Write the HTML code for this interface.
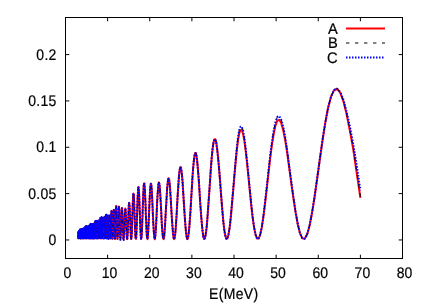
<!DOCTYPE html>
<html><head><meta charset="utf-8"><title>plot</title>
<style>html,body{margin:0;padding:0;background:#fff}svg{display:block}text{font-family:"Liberation Sans",sans-serif;font-size:14px;text-rendering:geometricPrecision;fill:#000}</style></head>
<body>
<svg width="436" height="305" viewBox="0 0 436 305">
<rect width="436" height="305" fill="#fff"/>
<g opacity="0.999">
<text transform="translate(67.50,278.00) scale(1,1.1)" text-anchor="middle"  stroke="#000" stroke-width="0.2" >0</text>
<path d="M107.62 258.5 v-3.8 M107.62 17.5 v3.8" stroke="#000" stroke-width="1" fill="none"/>
<text transform="translate(109.62,278.00) scale(1,1.1)" text-anchor="middle"  stroke="#000" stroke-width="0.2" >10</text>
<path d="M149.75 258.5 v-3.8 M149.75 17.5 v3.8" stroke="#000" stroke-width="1" fill="none"/>
<text transform="translate(151.75,278.00) scale(1,1.1)" text-anchor="middle"  stroke="#000" stroke-width="0.2" >20</text>
<path d="M191.88 258.5 v-3.8 M191.88 17.5 v3.8" stroke="#000" stroke-width="1" fill="none"/>
<text transform="translate(193.88,278.00) scale(1,1.1)" text-anchor="middle"  stroke="#000" stroke-width="0.2" >30</text>
<path d="M234.00 258.5 v-3.8 M234.00 17.5 v3.8" stroke="#000" stroke-width="1" fill="none"/>
<text transform="translate(236.00,278.00) scale(1,1.1)" text-anchor="middle"  stroke="#000" stroke-width="0.2" >40</text>
<path d="M276.12 258.5 v-3.8 M276.12 17.5 v3.8" stroke="#000" stroke-width="1" fill="none"/>
<text transform="translate(278.12,278.00) scale(1,1.1)" text-anchor="middle"  stroke="#000" stroke-width="0.2" >50</text>
<path d="M318.25 258.5 v-3.8 M318.25 17.5 v3.8" stroke="#000" stroke-width="1" fill="none"/>
<text transform="translate(320.25,278.00) scale(1,1.1)" text-anchor="middle"  stroke="#000" stroke-width="0.2" >60</text>
<path d="M360.38 258.5 v-3.8 M360.38 17.5 v3.8" stroke="#000" stroke-width="1" fill="none"/>
<text transform="translate(362.38,278.00) scale(1,1.1)" text-anchor="middle"  stroke="#000" stroke-width="0.2" >70</text>
<text transform="translate(404.50,278.00) scale(1,1.1)" text-anchor="middle"  stroke="#000" stroke-width="0.2" >80</text>
<path d="M65.5 239.96 h3.8 M402.5 239.96 h-3.8" stroke="#000" stroke-width="1" fill="none"/>
<text transform="translate(56.70,245.06) scale(1,1.1)" text-anchor="end"  stroke="#000" stroke-width="0.2" letter-spacing="0.3">0</text>
<path d="M65.5 193.62 h3.8 M402.5 193.62 h-3.8" stroke="#000" stroke-width="1" fill="none"/>
<text transform="translate(56.70,198.72) scale(1,1.1)" text-anchor="end"  stroke="#000" stroke-width="0.2" letter-spacing="0.3">0.05</text>
<path d="M65.5 147.27 h3.8 M402.5 147.27 h-3.8" stroke="#000" stroke-width="1" fill="none"/>
<text transform="translate(56.70,152.37) scale(1,1.1)" text-anchor="end"  stroke="#000" stroke-width="0.2" letter-spacing="0.3">0.1</text>
<path d="M65.5 100.92 h3.8 M402.5 100.92 h-3.8" stroke="#000" stroke-width="1" fill="none"/>
<text transform="translate(56.70,106.02) scale(1,1.1)" text-anchor="end"  stroke="#000" stroke-width="0.2" letter-spacing="0.3">0.15</text>
<path d="M65.5 54.58 h3.8 M402.5 54.58 h-3.8" stroke="#000" stroke-width="1" fill="none"/>
<text transform="translate(56.70,59.68) scale(1,1.1)" text-anchor="end"  stroke="#000" stroke-width="0.2" letter-spacing="0.3">0.2</text>
<polyline points="78.1,236.5 78.1,235.8 78.2,235.1 78.2,234.4 78.2,233.8 78.2,233.3 78.2,233.0 78.2,232.8 78.2,232.8 78.2,232.9 78.2,233.3 78.2,233.8 78.2,234.4 78.2,235.1 78.2,235.8 78.2,236.5 78.2,237.1 78.3,237.6 78.3,238.0 78.3,238.2 78.3,238.2 78.3,238.0 78.3,237.6 78.3,237.1 78.3,236.5 78.3,235.8 78.3,235.1 78.3,234.3 78.3,233.7 78.3,233.2 78.3,232.8 78.3,232.6 78.4,232.5 78.4,232.7 78.4,233.0 78.4,233.6 78.4,234.2 78.4,234.9 78.4,235.6 78.4,236.3 78.4,237.0 78.4,237.5 78.4,237.9 78.4,238.2 78.4,238.2 78.4,238.0 78.5,237.7 78.5,237.2 78.5,236.5 78.5,235.8 78.5,235.0 78.5,234.3 78.5,233.6 78.5,233.0 78.5,232.6 78.5,232.3 78.5,232.3 78.5,232.5 78.5,232.8 78.5,233.3 78.5,233.9 78.6,234.7 78.6,235.4 78.6,236.2 78.6,236.9 78.6,237.5 78.6,237.9 78.6,238.1 78.6,238.2 78.6,238.0 78.6,237.7 78.6,237.2 78.6,236.5 78.6,235.8 78.6,235.0 78.7,234.2 78.7,233.5 78.7,232.9 78.7,232.4 78.7,232.1 78.7,232.1 78.7,232.2 78.7,232.5 78.7,233.0 78.7,233.7 78.7,234.4 78.7,235.2 78.7,236.0 78.7,236.8 78.8,237.4 78.8,237.8 78.8,238.1 78.8,238.2 78.8,238.1 78.8,237.7 78.8,237.2 78.8,236.5 78.8,235.8 78.8,234.9 78.8,234.1 78.8,233.3 78.8,232.7 78.9,232.2 78.9,231.9 78.9,231.8 78.9,231.9 78.9,232.2 78.9,232.7 78.9,233.4 78.9,234.2 78.9,235.0 78.9,235.8 78.9,236.6 78.9,237.3 78.9,237.8 78.9,238.1 79.0,238.2 79.0,238.1 79.0,237.7 79.0,237.2 79.0,236.5 79.0,235.7 79.0,234.9 79.0,234.0 79.0,233.2 79.0,232.5 79.0,232.0 79.0,231.7 79.0,231.5 79.1,231.6 79.1,231.9 79.1,232.5 79.1,233.1 79.1,233.9 79.1,234.8 79.1,235.7 79.1,236.5 79.1,237.2 79.1,237.7 79.1,238.1 79.1,238.2 79.1,238.1 79.2,237.8 79.2,237.3 79.2,236.6 79.2,235.7 79.2,234.9 79.2,234.0 79.2,233.1 79.2,232.4 79.2,231.8 79.2,231.4 79.2,231.3 79.2,231.3 79.2,231.6 79.3,232.2 79.3,232.8 79.3,233.7 79.3,234.6 79.3,235.5 79.3,236.3 79.3,237.1 79.3,237.6 79.3,238.0 79.3,238.2 79.3,238.1 79.3,237.8 79.4,237.3 79.4,236.6 79.4,235.7 79.4,234.8 79.4,233.9 79.4,233.0 79.4,232.2 79.4,231.6 79.4,231.2 79.4,231.0 79.4,231.1 79.4,231.3 79.4,231.9 79.5,232.6 79.5,233.4 79.5,234.3 79.5,235.3 79.5,236.1 79.5,236.9 79.5,237.6 79.5,238.0 79.5,238.2 79.5,238.1 79.5,237.8 79.5,237.3 79.6,236.6 79.6,235.8 79.6,234.8 79.6,233.8 79.6,232.9 79.6,232.1 79.6,231.4 79.6,231.0 79.6,230.8 79.6,230.8 79.6,231.1 79.6,231.6 79.7,232.3 79.7,233.1 79.7,234.1 79.7,235.0 79.7,236.0 79.7,236.8 79.7,237.5 79.7,238.0 79.7,238.2 79.7,238.2 79.7,237.9 79.7,237.4 79.8,236.6 79.8,235.8 79.8,234.8 79.8,233.8 79.8,232.9 79.8,232.0 79.8,231.3 79.8,230.8 79.8,230.5 79.8,230.5 79.8,230.8 79.8,231.3 79.9,232.0 79.9,232.9 79.9,233.8 79.9,234.8 79.9,235.8 79.9,236.7 79.9,237.4 79.9,237.9 79.9,238.2 79.9,238.2 79.9,237.9 80.0,237.4 80.0,236.7 80.0,235.8 80.0,234.8 80.0,233.8 80.0,232.8 80.0,231.9 80.0,231.2 80.0,230.6 80.0,230.3 80.0,230.3 80.0,230.6 80.1,231.0 80.1,231.7 80.1,232.6 80.1,233.6 80.1,234.6 80.1,235.6 80.1,236.6 80.1,237.3 80.1,237.8 80.1,238.1 80.1,238.2 80.2,237.9 80.2,237.5 80.2,236.7 80.2,235.9 80.2,234.9 80.2,233.8 80.2,232.8 80.2,231.8 80.2,231.1 80.2,230.5 80.2,230.2 80.3,230.1 80.3,230.3 80.3,230.8 80.3,231.5 80.3,232.4 80.3,233.4 80.3,234.4 80.3,235.5 80.3,236.4 80.3,237.2 80.3,237.8 80.4,238.1 80.4,238.2 80.4,238.0 80.4,237.5 80.4,236.8 80.4,235.9 80.4,234.9 80.4,233.8 80.4,232.8 80.4,231.8 80.4,231.0 80.5,230.4 80.5,230.0 80.5,229.9 80.5,230.1 80.5,230.6 80.5,231.3 80.5,232.2 80.5,233.2 80.5,234.2 80.5,235.3 80.5,236.3 80.6,237.1 80.6,237.7 80.6,238.1 80.6,238.2 80.6,238.0 80.6,237.6 80.6,236.9 80.6,236.0 80.6,235.0 80.6,233.9 80.7,232.8 80.7,231.8 80.7,230.9 80.7,230.3 80.7,229.9 80.7,229.8 80.7,230.0 80.7,230.4 80.7,231.1 80.7,232.0 80.7,233.0 80.8,234.1 80.8,235.1 80.8,236.2 80.8,237.0 80.8,237.7 80.8,238.1 80.8,238.2 80.8,238.0 80.8,237.6 80.8,236.9 80.9,236.0 80.9,235.0 80.9,233.9 80.9,232.8 80.9,231.8 80.9,230.9 80.9,230.3 80.9,229.8 80.9,229.7 80.9,229.8 81.0,230.2 81.0,230.9 81.0,231.8 81.0,232.8 81.0,233.9 81.0,235.0 81.0,236.0 81.0,236.9 81.0,237.6 81.0,238.0 81.1,238.2 81.1,238.1 81.1,237.7 81.1,237.0 81.1,236.1 81.1,235.1 81.1,234.0 81.1,232.9 81.1,231.9 81.1,231.0 81.2,230.3 81.2,229.8 81.2,229.6 81.2,229.7 81.2,230.1 81.2,230.8 81.2,231.6 81.2,232.7 81.2,233.8 81.2,234.9 81.3,235.9 81.3,236.8 81.3,237.5 81.3,238.0 81.3,238.2 81.3,238.1 81.3,237.7 81.3,237.1 81.3,236.2 81.3,235.2 81.4,234.1 81.4,233.0 81.4,231.9 81.4,231.0 81.4,230.3 81.4,229.8 81.4,229.6 81.4,229.7 81.4,230.0 81.5,230.7 81.5,231.5 81.5,232.5 81.5,233.6 81.5,234.7 81.5,235.8 81.5,236.7 81.5,237.5 81.5,238.0 81.6,238.2 81.6,238.1 81.6,237.8 81.6,237.2 81.6,236.3 81.6,235.3 81.6,234.2 81.6,233.1 81.6,232.1 81.6,231.1 81.7,230.4 81.7,229.9 81.7,229.6 81.7,229.7 81.7,230.0 81.7,230.6 81.7,231.4 81.7,232.4 81.7,233.5 81.8,234.6 81.8,235.7 81.8,236.6 81.8,237.4 81.8,237.9 81.8,238.2 81.8,238.1 81.8,237.8 81.8,237.2 81.9,236.4 81.9,235.5 81.9,234.4 81.9,233.3 81.9,232.2 81.9,231.2 81.9,230.5 81.9,229.9 81.9,229.6 82.0,229.7 82.0,230.0 82.0,230.5 82.0,231.3 82.0,232.3 82.0,233.4 82.0,234.5 82.0,235.6 82.0,236.5 82.1,237.3 82.1,237.9 82.1,238.2 82.1,238.2 82.1,237.9 82.1,237.3 82.1,236.5 82.1,235.6 82.2,234.5 82.2,233.4 82.2,232.3 82.2,231.3 82.2,230.6 82.2,230.0 82.2,229.7 82.2,229.7 82.2,229.9 82.3,230.5 82.3,231.3 82.3,232.2 82.3,233.3 82.3,234.4 82.3,235.5 82.3,236.4 82.3,237.3 82.3,237.8 82.4,238.1 82.4,238.2 82.4,237.9 82.4,237.4 82.4,236.6 82.4,235.7 82.4,234.6 82.4,233.5 82.5,232.4 82.5,231.4 82.5,230.6 82.5,230.0 82.5,229.7 82.5,229.7 82.5,229.9 82.5,230.4 82.6,231.2 82.6,232.1 82.6,233.2 82.6,234.3 82.6,235.4 82.6,236.3 82.6,237.2 82.6,237.8 82.6,238.1 82.7,238.2 82.7,238.0 82.7,237.5 82.7,236.7 82.7,235.8 82.7,234.7 82.7,233.6 82.7,232.5 82.8,231.5 82.8,230.7 82.8,230.1 82.8,229.7 82.8,229.6 82.8,229.8 82.8,230.3 82.8,231.0 82.9,232.0 82.9,233.0 82.9,234.1 82.9,235.2 82.9,236.2 82.9,237.1 82.9,237.7 82.9,238.1 83.0,238.2 83.0,238.0 83.0,237.5 83.0,236.8 83.0,235.9 83.0,234.8 83.0,233.7 83.0,232.6 83.1,231.5 83.1,230.7 83.1,230.0 83.1,229.6 83.1,229.5 83.1,229.7 83.1,230.1 83.2,230.8 83.2,231.7 83.2,232.8 83.2,233.9 83.2,235.1 83.2,236.1 83.2,237.0 83.2,237.7 83.3,238.1 83.3,238.2 83.3,238.0 83.3,237.6 83.3,236.9 83.3,235.9 83.3,234.9 83.3,233.7 83.4,232.6 83.4,231.5 83.4,230.6 83.4,229.9 83.4,229.4 83.4,229.3 83.4,229.4 83.5,229.9 83.5,230.6 83.5,231.5 83.5,232.5 83.5,233.7 83.5,234.8 83.5,235.9 83.5,236.9 83.6,237.6 83.6,238.0 83.6,238.2 83.6,238.1 83.6,237.6 83.6,236.9 83.6,236.0 83.7,234.9 83.7,233.7 83.7,232.5 83.7,231.4 83.7,230.4 83.7,229.7 83.7,229.2 83.8,229.0 83.8,229.1 83.8,229.5 83.8,230.2 83.8,231.1 83.8,232.2 83.8,233.4 83.9,234.6 83.9,235.7 83.9,236.7 83.9,237.5 83.9,238.0 83.9,238.2 83.9,238.1 83.9,237.7 84.0,237.0 84.0,236.0 84.0,234.9 84.0,233.7 84.0,232.4 84.0,231.3 84.0,230.2 84.1,229.4 84.1,228.9 84.1,228.6 84.1,228.7 84.1,229.1 84.1,229.8 84.1,230.7 84.2,231.8 84.2,233.1 84.2,234.3 84.2,235.5 84.2,236.5 84.2,237.4 84.3,237.9 84.3,238.2 84.3,238.1 84.3,237.7 84.3,237.0 84.3,236.0 84.3,234.9 84.4,233.6 84.4,232.3 84.4,231.1 84.4,230.0 84.4,229.1 84.4,228.5 84.4,228.2 84.5,228.2 84.5,228.6 84.5,229.3 84.5,230.2 84.5,231.4 84.5,232.7 84.5,234.0 84.6,235.2 84.6,236.4 84.6,237.3 84.6,237.9 84.6,238.2 84.6,238.1 84.7,237.7 84.7,237.0 84.7,236.0 84.7,234.9 84.7,233.5 84.7,232.2 84.7,230.9 84.8,229.7 84.8,228.7 84.8,228.1 84.8,227.7 84.8,227.7 84.8,228.1 84.9,228.8 84.9,229.8 84.9,230.9 84.9,232.3 84.9,233.6 84.9,235.0 84.9,236.2 85.0,237.1 85.0,237.8 85.0,238.2 85.0,238.2 85.0,237.8 85.0,237.1 85.1,236.1 85.1,234.9 85.1,233.5 85.1,232.1 85.1,230.7 85.1,229.5 85.2,228.4 85.2,227.7 85.2,227.3 85.2,227.3 85.2,227.6 85.2,228.3 85.3,229.3 85.3,230.5 85.3,231.9 85.3,233.3 85.3,234.7 85.3,236.0 85.3,237.0 85.4,237.7 85.4,238.1 85.4,238.2 85.4,237.8 85.4,237.1 85.4,236.1 85.5,234.9 85.5,233.5 85.5,232.0 85.5,230.6 85.5,229.3 85.5,228.2 85.6,227.4 85.6,227.0 85.6,226.9 85.6,227.3 85.6,227.9 85.6,228.9 85.7,230.2 85.7,231.6 85.7,233.0 85.7,234.5 85.7,235.8 85.8,236.9 85.8,237.7 85.8,238.1 85.8,238.2 85.8,237.9 85.8,237.2 85.9,236.2 85.9,235.0 85.9,233.6 85.9,232.1 85.9,230.6 85.9,229.3 86.0,228.2 86.0,227.3 86.0,226.8 86.0,226.7 86.0,227.0 86.0,227.7 86.1,228.7 86.1,229.9 86.1,231.3 86.1,232.8 86.1,234.3 86.1,235.6 86.2,236.7 86.2,237.6 86.2,238.1 86.2,238.2 86.2,237.9 86.3,237.3 86.3,236.3 86.3,235.1 86.3,233.7 86.3,232.2 86.3,230.7 86.4,229.4 86.4,228.2 86.4,227.4 86.4,226.8 86.4,226.7 86.5,227.0 86.5,227.6 86.5,228.5 86.5,229.7 86.5,231.1 86.5,232.6 86.6,234.1 86.6,235.5 86.6,236.6 86.6,237.5 86.6,238.0 86.7,238.2 86.7,238.0 86.7,237.4 86.7,236.4 86.7,235.3 86.8,233.9 86.8,232.4 86.8,230.9 86.8,229.6 86.8,228.4 86.8,227.5 86.9,227.0 86.9,226.8 86.9,227.0 86.9,227.6 86.9,228.5 87.0,229.7 87.0,231.1 87.0,232.5 87.0,234.0 87.0,235.4 87.1,236.5 87.1,237.4 87.1,238.0 87.1,238.2 87.1,238.0 87.2,237.5 87.2,236.6 87.2,235.4 87.2,234.1 87.2,232.6 87.3,231.2 87.3,229.8 87.3,228.7 87.3,227.8 87.3,227.2 87.3,227.0 87.4,227.1 87.4,227.7 87.4,228.5 87.4,229.7 87.4,231.0 87.5,232.4 87.5,233.9 87.5,235.3 87.5,236.4 87.5,237.4 87.6,238.0 87.6,238.2 87.6,238.1 87.6,237.6 87.7,236.7 87.7,235.6 87.7,234.3 87.7,232.8 87.7,231.4 87.8,230.0 87.8,228.8 87.8,227.9 87.8,227.3 87.8,227.0 87.9,227.2 87.9,227.6 87.9,228.5 87.9,229.6 87.9,230.9 88.0,232.3 88.0,233.7 88.0,235.1 88.0,236.3 88.0,237.3 88.1,237.9 88.1,238.2 88.1,238.1 88.1,237.6 88.2,236.8 88.2,235.7 88.2,234.4 88.2,233.0 88.2,231.5 88.3,230.1 88.3,228.9 88.3,227.9 88.3,227.2 88.3,226.9 88.4,227.0 88.4,227.4 88.4,228.2 88.4,229.3 88.5,230.6 88.5,232.0 88.5,233.5 88.5,234.9 88.5,236.2 88.6,237.2 88.6,237.8 88.6,238.2 88.6,238.1 88.7,237.7 88.7,236.9 88.7,235.8 88.7,234.4 88.7,233.0 88.8,231.4 88.8,230.0 88.8,228.7 88.8,227.6 88.9,226.9 88.9,226.5 88.9,226.5 88.9,226.9 88.9,227.7 89.0,228.8 89.0,230.1 89.0,231.6 89.0,233.1 89.1,234.6 89.1,235.9 89.1,237.0 89.1,237.8 89.2,238.2 89.2,238.1 89.2,237.7 89.2,236.9 89.2,235.8 89.3,234.4 89.3,232.8 89.3,231.2 89.3,229.7 89.4,228.3 89.4,227.1 89.4,226.3 89.4,225.8 89.5,225.8 89.5,226.2 89.5,226.9 89.5,228.0 89.6,229.4 89.6,231.0 89.6,232.6 89.6,234.2 89.7,235.6 89.7,236.8 89.7,237.7 89.7,238.1 89.7,238.2 89.8,237.8 89.8,236.9 89.8,235.8 89.8,234.3 89.9,232.7 89.9,231.0 89.9,229.3 89.9,227.8 90.0,226.5 90.0,225.6 90.0,225.1 90.0,225.0 90.1,225.3 90.1,226.1 90.1,227.3 90.1,228.7 90.2,230.4 90.2,232.1 90.2,233.8 90.2,235.3 90.3,236.6 90.3,237.6 90.3,238.1 90.3,238.2 90.4,237.8 90.4,237.0 90.4,235.8 90.5,234.3 90.5,232.6 90.5,230.8 90.5,229.0 90.6,227.4 90.6,226.1 90.6,225.1 90.6,224.5 90.7,224.3 90.7,224.7 90.7,225.5 90.7,226.6 90.8,228.1 90.8,229.8 90.8,231.7 90.8,233.4 90.9,235.1 90.9,236.4 90.9,237.5 91.0,238.1 91.0,238.2 91.0,237.9 91.0,237.1 91.1,235.9 91.1,234.4 91.1,232.6 91.1,230.8 91.2,229.0 91.2,227.4 91.2,226.0 91.3,224.9 91.3,224.3 91.3,224.1 91.3,224.4 91.4,225.2 91.4,226.4 91.4,227.9 91.4,229.6 91.5,231.4 91.5,233.2 91.5,234.9 91.6,236.3 91.6,237.4 91.6,238.0 91.6,238.2 91.7,237.9 91.7,237.2 91.7,236.0 91.8,234.6 91.8,232.9 91.8,231.1 91.8,229.3 91.9,227.6 91.9,226.2 91.9,225.1 92.0,224.5 92.0,224.3 92.0,224.5 92.0,225.2 92.1,226.4 92.1,227.8 92.1,229.5 92.2,231.3 92.2,233.1 92.2,234.8 92.3,236.2 92.3,237.3 92.3,238.0 92.3,238.2 92.4,238.0 92.4,237.3 92.4,236.2 92.5,234.8 92.5,233.1 92.5,231.4 92.6,229.6 92.6,228.0 92.6,226.5 92.6,225.4 92.7,224.7 92.7,224.5 92.7,224.7 92.8,225.3 92.8,226.4 92.8,227.8 92.9,229.4 92.9,231.2 92.9,233.0 93.0,234.6 93.0,236.1 93.0,237.2 93.1,237.9 93.1,238.2 93.1,238.0 93.1,237.4 93.2,236.3 93.2,235.0 93.2,233.3 93.3,231.5 93.3,229.8 93.3,228.1 93.4,226.6 93.4,225.4 93.4,224.6 93.5,224.3 93.5,224.4 93.5,225.0 93.6,226.0 93.6,227.4 93.6,229.0 93.7,230.8 93.7,232.6 93.7,234.3 93.8,235.8 93.8,237.0 93.8,237.8 93.9,238.2 93.9,238.1 93.9,237.4 94.0,236.4 94.0,235.0 94.0,233.3 94.1,231.4 94.1,229.5 94.1,227.6 94.2,226.0 94.2,224.7 94.2,223.8 94.3,223.3 94.3,223.4 94.3,223.9 94.4,225.0 94.4,226.4 94.4,228.1 94.5,230.0 94.5,231.9 94.5,233.8 94.6,235.5 94.6,236.8 94.7,237.7 94.7,238.2 94.7,238.1 94.8,237.5 94.8,236.4 94.8,234.9 94.9,233.0 94.9,231.0 94.9,228.9 95.0,226.8 95.0,225.0 95.0,223.5 95.1,222.5 95.1,221.9 95.2,222.0 95.2,222.5 95.2,223.6 95.3,225.1 95.3,226.9 95.3,229.0 95.4,231.1 95.4,233.2 95.5,235.0 95.5,236.6 95.5,237.6 95.6,238.1 95.6,238.1 95.6,237.5 95.7,236.4 95.7,234.8 95.8,232.9 95.8,230.7 95.8,228.5 95.9,226.3 95.9,224.3 95.9,222.8 96.0,221.6 96.0,221.0 96.1,221.0 96.1,221.6 96.1,222.7 96.2,224.3 96.2,226.2 96.3,228.4 96.3,230.6 96.3,232.8 96.4,234.7 96.4,236.4 96.5,237.5 96.5,238.1 96.5,238.1 96.6,237.6 96.6,236.5 96.7,234.9 96.7,233.0 96.7,230.9 96.8,228.6 96.8,226.4 96.9,224.5 96.9,222.9 96.9,221.7 97.0,221.1 97.0,221.1 97.1,221.6 97.1,222.7 97.1,224.2 97.2,226.1 97.2,228.3 97.3,230.5 97.3,232.7 97.4,234.6 97.4,236.2 97.4,237.4 97.5,238.1 97.5,238.2 97.6,237.7 97.6,236.7 97.7,235.2 97.7,233.4 97.7,231.3 97.8,229.1 97.8,227.0 97.9,225.0 97.9,223.4 98.0,222.2 98.0,221.6 98.0,221.4 98.1,221.9 98.1,222.8 98.2,224.3 98.2,226.1 98.3,228.2 98.3,230.3 98.4,232.5 98.4,234.4 98.4,236.1 98.5,237.3 98.5,238.0 98.6,238.2 98.6,237.8 98.7,236.8 98.7,235.3 98.8,233.5 98.8,231.4 98.9,229.1 98.9,226.9 98.9,224.8 99.0,223.0 99.0,221.6 99.1,220.8 99.1,220.5 99.2,220.9 99.2,221.8 99.3,223.2 99.3,225.0 99.4,227.2 99.4,229.5 99.5,231.8 99.5,233.9 99.6,235.7 99.6,237.1 99.7,238.0 99.7,238.2 99.8,237.8 99.8,236.8 99.9,235.2 99.9,233.2 100.0,230.9 100.0,228.3 100.1,225.8 100.1,223.5 100.2,221.4 100.2,219.8 100.3,218.8 100.3,218.4 100.4,218.7 100.4,219.7 100.5,221.2 100.5,223.3 100.6,225.6 100.6,228.2 100.7,230.8 100.7,233.2 100.8,235.3 100.8,236.9 100.9,237.9 100.9,238.2 101.0,237.8 101.0,236.8 101.1,235.2 101.1,233.1 101.2,230.6 101.2,227.9 101.3,225.2 101.3,222.7 101.4,220.6 101.4,218.9 101.5,217.9 101.6,217.5 101.6,217.8 101.7,218.8 101.7,220.5 101.8,222.6 101.8,225.1 101.9,227.7 101.9,230.4 102.0,232.9 102.0,235.0 102.1,236.7 102.2,237.8 102.2,238.2 102.3,237.9 102.3,237.0 102.4,235.4 102.4,233.4 102.5,231.0 102.6,228.5 102.6,225.9 102.7,223.5 102.7,221.4 102.8,219.7 102.8,218.7 102.9,218.3 103.0,218.5 103.0,219.4 103.1,220.9 103.1,222.9 103.2,225.2 103.2,227.8 103.3,230.4 103.4,232.8 103.4,234.9 103.5,236.6 103.5,237.7 103.6,238.2 103.7,238.0 103.7,237.1 103.8,235.6 103.9,233.7 103.9,231.3 104.0,228.6 104.0,226.0 104.1,223.4 104.2,221.1 104.2,219.3 104.3,218.0 104.3,217.4 104.4,217.4 104.5,218.2 104.5,219.6 104.6,221.6 104.7,224.0 104.7,226.6 104.8,229.4 104.9,232.0 104.9,234.4 105.0,236.3 105.0,237.6 105.1,238.2 105.2,238.0 105.2,237.1 105.3,235.6 105.4,233.4 105.4,230.7 105.5,227.8 105.6,224.8 105.6,221.9 105.7,219.3 105.8,217.2 105.8,215.8 105.9,215.1 106.0,215.1 106.0,216.0 106.1,217.5 106.2,219.7 106.3,222.4 106.3,225.3 106.4,228.4 106.5,231.3 106.5,233.9 106.6,236.0 106.7,237.4 106.7,238.1 106.8,238.1 106.9,237.2 107.0,235.7 107.0,233.6 107.1,231.0 107.2,228.2 107.2,225.3 107.3,222.5 107.4,220.1 107.5,218.1 107.5,216.7 107.6,216.1 107.7,216.2 107.8,217.0 107.8,218.5 107.9,220.6 108.0,223.1 108.1,225.9 108.1,228.7 108.2,231.5 108.3,234.0 108.4,236.0 108.4,237.4 108.5,238.2 108.6,238.2 108.7,237.5 108.7,236.1 108.8,234.1 108.9,231.6 109.0,228.8 109.1,225.9 109.1,223.0 109.2,220.3 109.3,218.1 109.4,216.4 109.5,215.5 109.5,215.2 109.6,215.8 109.7,217.0 109.8,219.0 109.9,221.5 109.9,224.4 110.0,227.4 110.1,230.5 110.2,233.3 110.3,235.6 110.4,237.4 110.4,238.3 110.5,238.5 110.6,237.7 110.7,236.1 110.8,233.8 110.9,230.9 110.9,227.5 111.0,223.9 111.1,220.4 111.2,217.2 111.3,214.4 111.4,212.4 111.5,211.2 111.6,210.9 111.6,211.6 111.7,213.2 111.8,215.6 111.9,218.6 112.0,222.0 112.1,225.7 112.2,229.2 112.3,232.5 112.4,235.3 112.5,237.3 112.5,238.5 112.6,238.7 112.7,238.0 112.8,236.4 112.9,234.0 113.0,231.0 113.1,227.5 113.2,223.8 113.3,220.1 113.4,216.7 113.5,213.8 113.6,211.6 113.7,210.2 113.8,209.7 113.9,210.3 114.0,211.8 114.1,214.1 114.2,217.1 114.3,220.7 114.4,224.5 114.5,228.3 114.6,231.8 114.7,234.9 114.8,237.2 114.9,238.6 115.0,239.0 115.1,238.3 115.2,236.6 115.3,234.0 115.4,230.5 115.5,226.6 115.6,222.3 115.7,218.0 115.8,214.1 115.9,210.6 116.0,208.0 116.1,206.4 116.2,205.9 116.3,206.5 116.4,208.2 116.5,210.9 116.6,214.4 116.8,218.4 116.9,222.7 117.0,227.0 117.1,231.0 117.2,234.4 117.3,237.0 117.4,238.6 117.5,239.1 117.6,238.5 117.8,236.9 117.9,234.2 118.0,230.8 118.1,226.9 118.2,222.6 118.3,218.4 118.4,214.5 118.6,211.2 118.7,208.7 118.8,207.1 118.9,206.6 119.0,207.2 119.2,208.8 119.3,211.4 119.4,214.8 119.5,218.7 119.6,222.9 119.8,227.0 119.9,230.9 120.0,234.3 120.1,236.8 120.3,238.5 120.4,239.1 120.5,238.7 120.6,237.2 120.8,234.8 120.9,231.6 121.0,227.9 121.1,223.8 121.3,219.8 121.4,216.0 121.5,212.7 121.7,210.2 121.8,208.5 121.9,207.9 122.1,208.3 122.2,209.8 122.3,212.2 122.5,215.3 122.6,219.0 122.7,223.0 122.9,227.0 123.0,230.8 123.1,234.1 123.3,236.7 123.4,238.4 123.6,239.1 123.7,238.8 123.8,237.4 124.0,235.2 124.1,232.2 124.3,228.6 124.4,224.6 124.5,220.7 124.7,216.9 124.8,213.6 125.0,211.0 125.1,209.2 125.3,208.4 125.4,208.6 125.6,209.8 125.7,211.9 125.9,214.9 126.0,218.4 126.2,222.3 126.3,226.3 126.5,230.1 126.6,233.6 126.8,236.3 127.0,238.2 127.1,239.1 127.3,238.9 127.4,237.5 127.6,235.1 127.8,231.8 127.9,227.8 128.1,223.3 128.2,218.7 128.4,214.2 128.6,210.0 128.7,206.6 128.9,204.2 129.1,202.8 129.2,202.7 129.4,203.8 129.6,206.1 129.7,209.4 129.9,213.5 130.1,218.1 130.3,222.9 130.4,227.6 130.6,231.9 130.8,235.3 131.0,237.8 131.2,239.0 131.3,238.9 131.5,237.4 131.7,234.5 131.9,230.5 132.1,225.6 132.2,220.0 132.4,214.1 132.6,208.4 132.8,203.2 133.0,198.8 133.2,195.6 133.4,193.8 133.6,193.5 133.8,194.8 134.0,197.5 134.1,201.6 134.3,206.7 134.5,212.4 134.7,218.4 134.9,224.3 135.1,229.7 135.3,234.1 135.5,237.2 135.8,238.9 136.0,238.9 136.2,237.3 136.4,234.1 136.6,229.5 136.8,223.8 137.0,217.3 137.2,210.6 137.4,204.0 137.6,198.0 137.9,193.0 138.1,189.3 138.3,187.3 138.5,187.0 138.7,188.4 139.0,191.5 139.2,196.1 139.4,201.9 139.6,208.4 139.9,215.2 140.1,221.9 140.3,228.0 140.6,233.0 140.8,236.7 141.0,238.8 141.3,239.0 141.5,237.4 141.8,234.0 142.0,229.2 142.2,223.1 142.5,216.2 142.7,208.9 143.0,201.8 143.2,195.4 143.5,190.0 143.7,186.0 144.0,183.7 144.3,183.4 144.5,184.9 144.8,188.2 145.0,193.1 145.3,199.1 145.6,206.1 145.8,213.3 146.1,220.4 146.4,226.9 146.6,232.3 146.9,236.3 147.2,238.6 147.5,239.1 147.8,237.6 148.0,234.4 148.3,229.6 148.6,223.6 148.9,216.8 149.2,209.5 149.5,202.4 149.8,195.9 150.1,190.4 150.4,186.4 150.7,184.0 151.0,183.5 151.3,184.8 151.6,187.9 151.9,192.6 152.2,198.6 152.5,205.4 152.8,212.6 153.1,219.7 153.5,226.3 153.8,231.8 154.1,236.0 154.4,238.5 154.8,239.1 155.1,237.9 155.4,234.8 155.8,230.2 156.1,224.2 156.5,217.3 156.8,210.0 157.1,202.8 157.5,196.1 157.9,190.3 158.2,186.0 158.6,183.3 158.9,182.4 159.3,183.5 159.7,186.4 160.0,191.0 160.4,196.9 160.8,203.7 161.2,211.0 161.5,218.3 161.9,225.1 162.3,231.0 162.7,235.5 163.1,238.2 163.5,239.1 163.9,238.0 164.3,235.1 164.7,230.3 165.1,224.2 165.5,217.0 165.9,209.3 166.4,201.5 166.8,194.1 167.2,187.8 167.7,182.8 168.1,179.5 168.5,178.2 169.0,179.0 169.4,181.7 169.9,186.3 170.3,192.4 170.8,199.6 171.2,207.4 171.7,215.4 172.2,222.9 172.7,229.5 173.1,234.6 173.6,237.9 174.1,239.1 174.6,238.1 175.1,235.0 175.6,229.8 176.1,222.9 176.6,214.6 177.1,205.6 177.6,196.4 178.2,187.6 178.7,179.8 179.2,173.5 179.8,169.2 180.3,167.1 180.9,167.6 181.4,170.4 182.0,175.4 182.6,182.4 183.1,190.8 183.7,200.1 184.3,209.6 184.9,218.7 185.5,226.7 186.1,233.1 186.7,237.3 187.3,239.1 187.9,238.2 188.5,234.7 189.2,228.7 189.8,220.5 190.5,210.8 191.1,200.0 191.8,188.9 192.4,178.3 193.1,168.8 193.8,161.1 194.5,155.7 195.2,153.0 195.9,153.2 196.6,156.4 197.3,162.2 198.0,170.3 198.8,180.3 199.5,191.3 200.2,202.7 201.0,213.6 201.8,223.4 202.6,231.2 203.3,236.6 204.1,239.0 204.9,238.3 205.7,234.5 206.6,227.7 207.4,218.3 208.2,207.1 209.1,194.5 210.0,181.6 210.8,169.2 211.7,158.0 212.6,148.9 213.5,142.4 214.4,139.2 215.3,139.3 216.3,142.8 217.2,149.4 218.2,158.7 219.2,170.2 220.2,182.9 221.2,196.1 222.2,208.8 223.2,220.1 224.2,229.3 225.3,235.7 226.4,238.9 227.4,238.5 228.5,234.5 229.7,227.3 230.8,217.3 231.9,205.0 233.1,191.4 234.3,177.3 235.5,163.6 236.7,151.3 237.9,141.2 239.1,134.0 240.4,130.2 241.7,130.0 243.0,133.5 244.3,140.5 245.6,150.4 247.0,162.7 248.4,176.5 249.8,190.8 251.2,204.8 252.6,217.3 254.1,227.6 255.6,234.9 257.1,238.6 258.6,238.6 260.2,234.8 261.8,227.4 263.4,216.8 265.0,203.8 266.7,189.1 268.4,173.8 270.1,158.8 271.9,145.2 273.7,133.9 275.5,125.5 277.3,120.7 279.2,119.8 281.1,122.8 283.1,129.6 285.1,139.7 287.1,152.4 289.1,167.1 291.2,182.7 293.4,198.2 295.6,212.4 297.8,224.5 300.0,233.3 302.3,238.3 304.7,238.8 307.1,234.6 309.5,225.9 312.0,213.1 314.6,196.9 317.2,178.4 319.9,158.8 322.6,139.6 325.4,122.1 328.2,107.3 331.1,96.4 334.1,90.0 337.1,88.8 340.2,92.6 343.4,101.3 346.6,114.3 349.9,130.7 353.3,149.5 356.8,173.5 360.4,197.8" fill="none" stroke="#f00" stroke-width="2" stroke-linejoin="round"/>
<polyline points="78.1,236.8 78.1,235.8 78.2,234.9 78.2,233.9 78.2,233.1 78.2,232.4 78.2,231.9 78.2,231.7 78.2,231.7 78.2,231.9 78.2,232.4 78.2,233.1 78.2,233.9 78.2,234.9 78.2,235.8 78.2,236.8 78.2,237.6 78.3,238.3 78.3,238.8 78.3,239.1 78.3,239.1 78.3,238.9 78.3,238.4 78.3,237.7 78.3,236.8 78.3,235.9 78.3,234.9 78.3,233.9 78.3,233.0 78.3,232.3 78.3,231.8 78.3,231.5 78.4,231.4 78.4,231.7 78.4,232.1 78.4,232.8 78.4,233.7 78.4,234.6 78.4,235.6 78.4,236.6 78.4,237.5 78.4,238.2 78.4,238.8 78.4,239.1 78.4,239.1 78.4,238.9 78.5,238.4 78.5,237.7 78.5,236.8 78.5,235.9 78.5,234.8 78.5,233.8 78.5,232.9 78.5,232.1 78.5,231.6 78.5,231.3 78.5,231.2 78.5,231.4 78.5,231.9 78.5,232.5 78.5,233.4 78.6,234.4 78.6,235.4 78.6,236.4 78.6,237.4 78.6,238.1 78.6,238.7 78.6,239.1 78.6,239.1 78.6,238.9 78.6,238.4 78.6,237.8 78.6,236.9 78.6,235.9 78.6,234.8 78.7,233.8 78.7,232.8 78.7,232.0 78.7,231.4 78.7,231.0 78.7,230.9 78.7,231.1 78.7,231.6 78.7,232.3 78.7,233.1 78.7,234.1 78.7,235.2 78.7,236.2 78.7,237.2 78.8,238.0 78.8,238.7 78.8,239.0 78.8,239.1 78.8,238.9 78.8,238.5 78.8,237.8 78.8,236.9 78.8,235.9 78.8,234.8 78.8,233.7 78.8,232.7 78.8,231.9 78.9,231.2 78.9,230.8 78.9,230.7 78.9,230.8 78.9,231.3 78.9,231.9 78.9,232.8 78.9,233.8 78.9,234.9 78.9,236.0 78.9,237.0 78.9,237.9 78.9,238.6 78.9,239.0 79.0,239.1 79.0,239.0 79.0,238.5 79.0,237.8 79.0,237.0 79.0,235.9 79.0,234.8 79.0,233.7 79.0,232.6 79.0,231.7 79.0,231.0 79.0,230.6 79.0,230.4 79.1,230.5 79.1,231.0 79.1,231.6 79.1,232.5 79.1,233.6 79.1,234.7 79.1,235.8 79.1,236.9 79.1,237.8 79.1,238.5 79.1,239.0 79.1,239.1 79.1,239.0 79.2,238.6 79.2,237.9 79.2,237.0 79.2,235.9 79.2,234.8 79.2,233.6 79.2,232.5 79.2,231.6 79.2,230.8 79.2,230.4 79.2,230.1 79.2,230.3 79.2,230.6 79.3,231.3 79.3,232.2 79.3,233.3 79.3,234.4 79.3,235.6 79.3,236.7 79.3,237.7 79.3,238.4 79.3,238.9 79.3,239.1 79.3,239.0 79.3,238.6 79.4,237.9 79.4,237.0 79.4,236.0 79.4,234.8 79.4,233.6 79.4,232.5 79.4,231.5 79.4,230.7 79.4,230.1 79.4,229.9 79.4,230.0 79.4,230.3 79.4,231.0 79.5,231.9 79.5,233.0 79.5,234.2 79.5,235.4 79.5,236.5 79.5,237.5 79.5,238.3 79.5,238.9 79.5,239.1 79.5,239.0 79.5,238.7 79.5,238.0 79.6,237.1 79.6,236.0 79.6,234.8 79.6,233.6 79.6,232.4 79.6,231.4 79.6,230.5 79.6,229.9 79.6,229.7 79.6,229.7 79.6,230.0 79.6,230.7 79.7,231.6 79.7,232.7 79.7,233.9 79.7,235.1 79.7,236.3 79.7,237.4 79.7,238.2 79.7,238.8 79.7,239.1 79.7,239.1 79.7,238.7 79.7,238.1 79.8,237.2 79.8,236.1 79.8,234.8 79.8,233.6 79.8,232.4 79.8,231.3 79.8,230.4 79.8,229.8 79.8,229.4 79.8,229.4 79.8,229.8 79.8,230.4 79.9,231.3 79.9,232.4 79.9,233.6 79.9,234.9 79.9,236.1 79.9,237.2 79.9,238.1 79.9,238.8 79.9,239.1 79.9,239.1 79.9,238.8 80.0,238.1 80.0,237.2 80.0,236.1 80.0,234.9 80.0,233.6 80.0,232.3 80.0,231.2 80.0,230.3 80.0,229.6 80.0,229.2 80.0,229.2 80.0,229.5 80.1,230.1 80.1,231.0 80.1,232.1 80.1,233.4 80.1,234.7 80.1,235.9 80.1,237.1 80.1,238.0 80.1,238.7 80.1,239.1 80.1,239.1 80.2,238.8 80.2,238.2 80.2,237.3 80.2,236.2 80.2,234.9 80.2,233.6 80.2,232.3 80.2,231.2 80.2,230.2 80.2,229.5 80.2,229.1 80.3,229.0 80.3,229.3 80.3,229.9 80.3,230.8 80.3,231.9 80.3,233.1 80.3,234.4 80.3,235.7 80.3,236.9 80.3,237.9 80.3,238.6 80.4,239.0 80.4,239.1 80.4,238.8 80.4,238.3 80.4,237.4 80.4,236.3 80.4,235.0 80.4,233.7 80.4,232.4 80.4,231.1 80.4,230.1 80.5,229.4 80.5,228.9 80.5,228.8 80.5,229.1 80.5,229.6 80.5,230.5 80.5,231.6 80.5,232.9 80.5,234.2 80.5,235.5 80.5,236.7 80.6,237.8 80.6,238.5 80.6,239.0 80.6,239.1 80.6,238.9 80.6,238.3 80.6,237.5 80.6,236.4 80.6,235.1 80.6,233.7 80.7,232.4 80.7,231.2 80.7,230.1 80.7,229.3 80.7,228.8 80.7,228.7 80.7,228.9 80.7,229.4 80.7,230.3 80.7,231.4 80.7,232.6 80.8,234.0 80.8,235.3 80.8,236.6 80.8,237.7 80.8,238.5 80.8,239.0 80.8,239.1 80.8,238.9 80.8,238.4 80.8,237.5 80.9,236.5 80.9,235.2 80.9,233.8 80.9,232.5 80.9,231.2 80.9,230.1 80.9,229.3 80.9,228.8 80.9,228.6 80.9,228.7 81.0,229.3 81.0,230.1 81.0,231.2 81.0,232.4 81.0,233.8 81.0,235.2 81.0,236.4 81.0,237.5 81.0,238.4 81.0,238.9 81.1,239.1 81.1,239.0 81.1,238.5 81.1,237.6 81.1,236.6 81.1,235.3 81.1,233.9 81.1,232.6 81.1,231.3 81.1,230.2 81.2,229.3 81.2,228.7 81.2,228.5 81.2,228.6 81.2,229.1 81.2,229.9 81.2,231.0 81.2,232.3 81.2,233.6 81.2,235.0 81.3,236.3 81.3,237.4 81.3,238.3 81.3,238.9 81.3,239.1 81.3,239.0 81.3,238.5 81.3,237.7 81.3,236.7 81.3,235.4 81.4,234.1 81.4,232.7 81.4,231.4 81.4,230.3 81.4,229.4 81.4,228.8 81.4,228.5 81.4,228.6 81.4,229.0 81.5,229.8 81.5,230.9 81.5,232.1 81.5,233.5 81.5,234.8 81.5,236.2 81.5,237.3 81.5,238.2 81.5,238.8 81.6,239.1 81.6,239.0 81.6,238.6 81.6,237.8 81.6,236.8 81.6,235.6 81.6,234.2 81.6,232.8 81.6,231.5 81.6,230.4 81.7,229.4 81.7,228.8 81.7,228.5 81.7,228.6 81.7,229.0 81.7,229.7 81.7,230.7 81.7,232.0 81.7,233.3 81.8,234.7 81.8,236.0 81.8,237.2 81.8,238.1 81.8,238.8 81.8,239.1 81.8,239.1 81.8,238.7 81.8,237.9 81.9,236.9 81.9,235.7 81.9,234.4 81.9,233.0 81.9,231.7 81.9,230.5 81.9,229.5 81.9,228.9 81.9,228.5 82.0,228.6 82.0,228.9 82.0,229.7 82.0,230.6 82.0,231.8 82.0,233.2 82.0,234.6 82.0,235.9 82.0,237.1 82.1,238.0 82.1,238.7 82.1,239.1 82.1,239.1 82.1,238.7 82.1,238.0 82.1,237.1 82.1,235.9 82.2,234.5 82.2,233.2 82.2,231.8 82.2,230.6 82.2,229.7 82.2,229.0 82.2,228.6 82.2,228.6 82.2,228.9 82.3,229.6 82.3,230.5 82.3,231.7 82.3,233.0 82.3,234.4 82.3,235.8 82.3,237.0 82.3,238.0 82.3,238.7 82.4,239.1 82.4,239.1 82.4,238.8 82.4,238.1 82.4,237.2 82.4,236.0 82.4,234.7 82.4,233.3 82.5,232.0 82.5,230.8 82.5,229.8 82.5,229.0 82.5,228.6 82.5,228.6 82.5,228.9 82.5,229.5 82.6,230.4 82.6,231.6 82.6,232.9 82.6,234.3 82.6,235.6 82.6,236.8 82.6,237.9 82.6,238.6 82.6,239.0 82.7,239.1 82.7,238.8 82.7,238.2 82.7,237.3 82.7,236.1 82.7,234.8 82.7,233.5 82.7,232.1 82.8,230.9 82.8,229.8 82.8,229.0 82.8,228.6 82.8,228.5 82.8,228.8 82.8,229.4 82.8,230.3 82.9,231.4 82.9,232.7 82.9,234.1 82.9,235.4 82.9,236.7 82.9,237.7 82.9,238.5 82.9,239.0 83.0,239.1 83.0,238.9 83.0,238.3 83.0,237.4 83.0,236.3 83.0,234.9 83.0,233.6 83.0,232.2 83.1,230.9 83.1,229.8 83.1,229.0 83.1,228.5 83.1,228.4 83.1,228.6 83.1,229.2 83.2,230.0 83.2,231.2 83.2,232.5 83.2,233.9 83.2,235.2 83.2,236.5 83.2,237.6 83.2,238.5 83.3,239.0 83.3,239.1 83.3,238.9 83.3,238.4 83.3,237.5 83.3,236.3 83.3,235.0 83.3,233.6 83.4,232.2 83.4,230.9 83.4,229.8 83.4,228.9 83.4,228.4 83.4,228.2 83.4,228.4 83.5,228.9 83.5,229.7 83.5,230.9 83.5,232.2 83.5,233.6 83.5,235.0 83.5,236.3 83.5,237.5 83.6,238.4 83.6,238.9 83.6,239.1 83.6,239.0 83.6,238.4 83.6,237.6 83.6,236.4 83.7,235.1 83.7,233.6 83.7,232.2 83.7,230.8 83.7,229.6 83.7,228.7 83.7,228.1 83.8,227.9 83.8,228.0 83.8,228.5 83.8,229.4 83.8,230.5 83.8,231.8 83.8,233.3 83.9,234.7 83.9,236.1 83.9,237.3 83.9,238.3 83.9,238.9 83.9,239.1 83.9,239.0 83.9,238.5 84.0,237.6 84.0,236.5 84.0,235.1 84.0,233.6 84.0,232.1 84.0,230.7 84.0,229.4 84.1,228.5 84.1,227.8 84.1,227.5 84.1,227.6 84.1,228.1 84.1,228.9 84.1,230.1 84.2,231.4 84.2,232.9 84.2,234.4 84.2,235.9 84.2,237.1 84.2,238.1 84.3,238.8 84.3,239.1 84.3,239.0 84.3,238.5 84.3,237.7 84.3,236.5 84.3,235.1 84.4,233.6 84.4,232.0 84.4,230.5 84.4,229.2 84.4,228.1 84.4,227.4 84.4,227.1 84.5,227.1 84.5,227.6 84.5,228.4 84.5,229.6 84.5,231.0 84.5,232.5 84.5,234.1 84.6,235.6 84.6,236.9 84.6,238.0 84.6,238.7 84.6,239.1 84.6,239.0 84.7,238.6 84.7,237.7 84.7,236.6 84.7,235.1 84.7,233.6 84.7,231.9 84.7,230.4 84.8,229.0 84.8,227.8 84.8,227.0 84.8,226.6 84.8,226.6 84.8,227.1 84.9,227.9 84.9,229.1 84.9,230.5 84.9,232.1 84.9,233.7 84.9,235.3 84.9,236.7 85.0,237.8 85.0,238.7 85.0,239.1 85.0,239.1 85.0,238.6 85.0,237.8 85.1,236.6 85.1,235.2 85.1,233.5 85.1,231.9 85.1,230.2 85.1,228.8 85.2,227.5 85.2,226.7 85.2,226.2 85.2,226.2 85.2,226.6 85.2,227.4 85.3,228.6 85.3,230.0 85.3,231.6 85.3,233.3 85.3,235.0 85.3,236.5 85.3,237.7 85.4,238.6 85.4,239.1 85.4,239.1 85.4,238.7 85.4,237.9 85.4,236.7 85.5,235.2 85.5,233.6 85.5,231.8 85.5,230.2 85.5,228.6 85.5,227.4 85.6,226.4 85.6,225.9 85.6,225.8 85.6,226.2 85.6,227.0 85.6,228.2 85.7,229.6 85.7,231.3 85.7,233.0 85.7,234.7 85.7,236.3 85.8,237.5 85.8,238.5 85.8,239.0 85.8,239.1 85.8,238.7 85.8,238.0 85.9,236.8 85.9,235.3 85.9,233.7 85.9,231.9 85.9,230.2 85.9,228.6 86.0,227.3 86.0,226.3 86.0,225.8 86.0,225.6 86.0,226.0 86.0,226.7 86.1,227.9 86.1,229.3 86.1,231.0 86.1,232.8 86.1,234.5 86.1,236.1 86.2,237.4 86.2,238.4 86.2,239.0 86.2,239.1 86.2,238.8 86.3,238.0 86.3,236.9 86.3,235.5 86.3,233.8 86.3,232.1 86.3,230.3 86.4,228.7 86.4,227.4 86.4,226.4 86.4,225.8 86.4,225.6 86.5,225.9 86.5,226.6 86.5,227.7 86.5,229.2 86.5,230.8 86.5,232.6 86.6,234.3 86.6,235.9 86.6,237.3 86.6,238.3 86.6,238.9 86.7,239.1 86.7,238.9 86.7,238.2 86.7,237.1 86.7,235.7 86.8,234.0 86.8,232.3 86.8,230.6 86.8,229.0 86.8,227.6 86.8,226.6 86.9,225.9 86.9,225.7 86.9,225.9 86.9,226.6 86.9,227.7 87.0,229.1 87.0,230.7 87.0,232.4 87.0,234.2 87.0,235.8 87.1,237.2 87.1,238.2 87.1,238.9 87.1,239.1 87.1,238.9 87.2,238.3 87.2,237.2 87.2,235.9 87.2,234.3 87.2,232.6 87.3,230.8 87.3,229.2 87.3,227.9 87.3,226.8 87.3,226.1 87.3,225.8 87.4,226.0 87.4,226.7 87.4,227.7 87.4,229.0 87.4,230.6 87.5,232.3 87.5,234.0 87.5,235.6 87.5,237.0 87.5,238.1 87.6,238.8 87.6,239.1 87.6,239.0 87.6,238.4 87.7,237.4 87.7,236.0 87.7,234.5 87.7,232.8 87.7,231.1 87.8,229.5 87.8,228.1 87.8,227.0 87.8,226.2 87.8,225.9 87.9,226.1 87.9,226.6 87.9,227.6 87.9,228.9 87.9,230.5 88.0,232.1 88.0,233.9 88.0,235.5 88.0,236.9 88.0,238.0 88.1,238.8 88.1,239.1 88.1,239.0 88.1,238.4 88.2,237.5 88.2,236.2 88.2,234.6 88.2,232.9 88.2,231.2 88.3,229.6 88.3,228.1 88.3,227.0 88.3,226.2 88.3,225.8 88.4,225.9 88.4,226.4 88.4,227.3 88.4,228.6 88.5,230.1 88.5,231.8 88.5,233.6 88.5,235.2 88.5,236.7 88.6,237.9 88.6,238.7 88.6,239.1 88.6,239.0 88.7,238.5 88.7,237.6 88.7,236.3 88.7,234.7 88.7,233.0 88.8,231.2 88.8,229.5 88.8,227.9 88.8,226.7 88.9,225.8 88.9,225.4 88.9,225.4 88.9,225.9 88.9,226.8 89.0,228.1 89.0,229.6 89.0,231.4 89.0,233.2 89.1,234.9 89.1,236.5 89.1,237.7 89.1,238.6 89.2,239.1 89.2,239.1 89.2,238.6 89.2,237.6 89.2,236.3 89.3,234.7 89.3,232.9 89.3,231.0 89.3,229.2 89.4,227.6 89.4,226.2 89.4,225.2 89.4,224.7 89.5,224.7 89.5,225.1 89.5,226.0 89.5,227.3 89.6,228.9 89.6,230.8 89.6,232.6 89.6,234.5 89.7,236.2 89.7,237.5 89.7,238.5 89.7,239.0 89.7,239.1 89.8,238.6 89.8,237.7 89.8,236.3 89.8,234.6 89.9,232.8 89.9,230.8 89.9,228.8 89.9,227.1 90.0,225.6 90.0,224.6 90.0,224.0 90.0,223.9 90.1,224.3 90.1,225.2 90.1,226.5 90.1,228.2 90.2,230.1 90.2,232.1 90.2,234.0 90.2,235.8 90.3,237.3 90.3,238.4 90.3,239.0 90.3,239.1 90.4,238.7 90.4,237.7 90.4,236.4 90.5,234.6 90.5,232.7 90.5,230.6 90.5,228.6 90.6,226.8 90.6,225.2 90.6,224.0 90.6,223.4 90.7,223.2 90.7,223.6 90.7,224.5 90.7,225.9 90.8,227.6 90.8,229.6 90.8,231.6 90.8,233.7 90.9,235.5 90.9,237.1 90.9,238.3 91.0,239.0 91.0,239.1 91.0,238.7 91.0,237.8 91.1,236.5 91.1,234.7 91.1,232.8 91.1,230.7 91.2,228.6 91.2,226.7 91.2,225.1 91.3,223.9 91.3,223.2 91.3,223.0 91.3,223.4 91.4,224.2 91.4,225.6 91.4,227.3 91.4,229.2 91.5,231.3 91.5,233.4 91.5,235.3 91.6,236.9 91.6,238.2 91.6,238.9 91.6,239.1 91.7,238.8 91.7,237.9 91.7,236.6 91.8,235.0 91.8,233.0 91.8,230.9 91.8,228.9 91.9,227.0 91.9,225.4 91.9,224.1 92.0,223.4 92.0,223.1 92.0,223.5 92.0,224.3 92.1,225.6 92.1,227.2 92.1,229.2 92.2,231.2 92.2,233.3 92.2,235.2 92.3,236.8 92.3,238.1 92.3,238.9 92.3,239.1 92.4,238.9 92.4,238.1 92.4,236.8 92.5,235.2 92.5,233.3 92.5,231.3 92.6,229.3 92.6,227.4 92.6,225.7 92.6,224.5 92.7,223.7 92.7,223.4 92.7,223.6 92.8,224.4 92.8,225.6 92.8,227.2 92.9,229.0 92.9,231.1 92.9,233.1 93.0,235.0 93.0,236.7 93.0,238.0 93.1,238.8 93.1,239.1 93.1,238.9 93.1,238.2 93.2,237.0 93.2,235.4 93.2,233.5 93.3,231.5 93.3,229.4 93.3,227.5 93.4,225.8 93.4,224.4 93.4,223.5 93.5,223.2 93.5,223.3 93.5,224.0 93.6,225.2 93.6,226.7 93.6,228.6 93.7,230.6 93.7,232.7 93.7,234.7 93.8,236.4 93.8,237.8 93.8,238.7 93.9,239.1 93.9,239.0 93.9,238.3 94.0,237.1 94.0,235.4 94.0,233.5 94.1,231.4 94.1,229.2 94.1,227.1 94.2,225.2 94.2,223.7 94.2,222.7 94.3,222.2 94.3,222.3 94.3,222.9 94.4,224.1 94.4,225.7 94.4,227.6 94.5,229.8 94.5,232.0 94.5,234.1 94.6,236.0 94.6,237.6 94.7,238.6 94.7,239.1 94.7,239.0 94.8,238.3 94.8,237.1 94.8,235.3 94.9,233.3 94.9,231.0 94.9,228.6 95.0,226.3 95.0,224.3 95.0,222.6 95.1,221.4 95.1,220.8 95.2,220.9 95.2,221.5 95.2,222.7 95.3,224.4 95.3,226.5 95.3,228.8 95.4,231.2 95.4,233.5 95.5,235.6 95.5,237.3 95.5,238.5 95.6,239.1 95.6,239.0 95.6,238.4 95.7,237.1 95.7,235.3 95.8,233.1 95.8,230.7 95.8,228.2 95.9,225.8 95.9,223.6 95.9,221.8 96.0,220.6 96.0,219.9 96.1,219.9 96.1,220.5 96.1,221.8 96.2,223.5 96.2,225.7 96.3,228.1 96.3,230.6 96.3,233.1 96.4,235.3 96.4,237.1 96.5,238.3 96.5,239.0 96.5,239.1 96.6,238.4 96.6,237.2 96.7,235.5 96.7,233.3 96.7,230.9 96.8,228.4 96.8,226.0 96.9,223.8 96.9,222.0 96.9,220.7 97.0,220.0 97.0,220.0 97.1,220.6 97.1,221.8 97.1,223.5 97.2,225.6 97.2,228.0 97.3,230.5 97.3,232.9 97.4,235.1 97.4,236.9 97.4,238.3 97.5,239.0 97.5,239.1 97.6,238.6 97.6,237.4 97.7,235.8 97.7,233.7 97.7,231.4 97.8,228.9 97.8,226.5 97.9,224.4 97.9,222.5 98.0,221.2 98.0,220.5 98.0,220.3 98.1,220.8 98.1,221.9 98.2,223.5 98.2,225.6 98.3,227.9 98.3,230.3 98.4,232.7 98.4,234.9 98.4,236.8 98.5,238.1 98.5,238.9 98.6,239.1 98.6,238.6 98.7,237.6 98.7,235.9 98.8,233.9 98.8,231.5 98.9,229.0 98.9,226.4 98.9,224.1 99.0,222.1 99.0,220.6 99.1,219.7 99.1,219.4 99.2,219.8 99.2,220.8 99.3,222.4 99.3,224.5 99.4,226.9 99.4,229.4 99.5,232.0 99.5,234.4 99.6,236.4 99.6,237.9 99.7,238.9 99.7,239.1 99.8,238.7 99.8,237.6 99.9,235.8 99.9,233.6 100.0,231.0 100.0,228.2 100.1,225.4 100.1,222.8 100.2,220.6 100.2,218.8 100.3,217.7 100.3,217.3 100.4,217.7 100.4,218.7 100.5,220.4 100.5,222.7 100.6,225.3 100.6,228.1 100.7,231.0 100.7,233.6 100.8,235.9 100.8,237.7 100.9,238.8 100.9,239.1 101.0,238.7 101.0,237.6 101.1,235.8 101.1,233.5 101.2,230.7 101.2,227.8 101.3,224.9 101.3,222.1 101.4,219.8 101.4,218.0 101.5,216.8 101.6,216.4 101.6,216.8 101.7,217.9 101.7,219.6 101.8,222.0 101.8,224.7 101.9,227.6 101.9,230.5 102.0,233.3 102.0,235.7 102.1,237.5 102.2,238.7 102.2,239.1 102.3,238.8 102.3,237.8 102.4,236.1 102.4,233.9 102.5,231.2 102.6,228.4 102.6,225.6 102.7,222.9 102.7,220.6 102.8,218.8 102.8,217.6 102.9,217.1 103.0,217.4 103.0,218.4 103.1,220.1 103.1,222.3 103.2,224.8 103.2,227.6 103.3,230.5 103.4,233.2 103.4,235.5 103.5,237.4 103.5,238.6 103.6,239.1 103.7,238.9 103.7,237.9 103.8,236.3 103.9,234.1 103.9,231.5 104.0,228.6 104.0,225.7 104.1,222.9 104.2,220.3 104.2,218.3 104.3,216.9 104.3,216.2 104.4,216.3 104.5,217.2 104.5,218.7 104.6,220.9 104.7,223.5 104.7,226.5 104.8,229.5 104.9,232.4 104.9,234.9 105.0,237.0 105.0,238.4 105.1,239.1 105.2,238.9 105.2,238.0 105.3,236.2 105.4,233.9 105.4,231.0 105.5,227.8 105.6,224.5 105.6,221.4 105.7,218.6 105.8,216.3 105.8,214.7 105.9,213.9 106.0,214.0 106.0,214.9 106.1,216.7 106.2,219.0 106.3,221.9 106.3,225.1 106.4,228.4 106.5,231.6 106.5,234.4 106.6,236.7 106.7,238.3 106.7,239.1 106.8,239.0 106.9,238.1 107.0,236.4 107.0,234.1 107.1,231.3 107.2,228.2 107.2,225.0 107.3,222.0 107.4,219.3 107.5,217.2 107.5,215.7 107.6,215.0 107.7,215.1 107.8,216.0 107.8,217.6 107.9,219.9 108.0,222.6 108.1,225.6 108.1,228.8 108.2,231.8 108.3,234.4 108.4,236.6 108.4,238.2 108.5,239.0 108.6,239.0 108.7,238.3 108.7,236.8 108.8,234.6 108.9,231.9 109.0,228.9 109.1,225.7 109.1,222.6 109.2,219.8 109.3,217.4 109.4,215.6 109.5,214.6 109.5,214.4 109.6,215.0 109.7,216.4 109.8,218.5 109.9,221.1 109.9,224.2 110.0,227.4 110.1,230.7 110.2,233.6 110.3,236.1 110.4,237.9 110.4,238.9 110.5,239.1 110.6,238.3 110.7,236.6 110.8,234.2 110.9,231.1 110.9,227.5 111.0,223.8 111.1,220.1 111.2,216.8 111.3,213.9 111.4,211.8 111.5,210.6 111.6,210.3 111.6,211.1 111.7,212.7 111.8,215.2 111.9,218.3 112.0,221.9 112.1,225.7 112.2,229.4 112.3,232.7 112.4,235.6 112.5,237.6 112.5,238.8 112.6,239.1 112.7,238.4 112.8,236.7 112.9,234.2 113.0,231.1 113.1,227.5 113.2,223.7 113.3,220.0 113.4,216.5 113.5,213.5 113.6,211.3 113.7,209.9 113.8,209.4 113.9,210.0 114.0,211.5 114.1,213.9 114.2,217.0 114.3,220.6 114.4,224.5 114.5,228.3 114.6,231.9 114.7,235.0 114.8,237.3 114.9,238.7 115.0,239.1 115.1,238.4 115.2,236.7 115.3,234.0 115.4,230.6 115.5,226.6 115.6,222.3 115.7,218.0 115.8,214.0 115.9,210.6 116.0,208.0 116.1,206.4 116.2,205.9 116.3,206.5 116.4,208.2 116.5,210.9 116.6,214.4 116.8,218.4 116.9,222.7 117.0,227.0 117.1,231.0 117.2,234.4 117.3,237.0 117.4,238.6 117.5,239.2 117.6,238.6 117.8,236.9 117.9,234.3 118.0,230.9 118.1,226.9 118.2,222.7 118.3,218.5 118.4,214.6 118.6,211.2 118.7,208.7 118.8,207.1 118.9,206.6 119.0,207.2 119.2,208.8 119.3,211.5 119.4,214.9 119.5,218.9 119.6,223.2 119.8,227.5 119.9,231.5 120.0,235.0 120.1,237.7 120.3,239.5 120.4,240.3 120.5,239.9 120.6,238.4 120.8,236.0 120.9,232.7 121.0,228.9 121.1,224.7 121.3,220.5 121.4,216.5 121.5,213.0 121.7,210.3 121.8,208.6 121.9,207.9 122.1,208.4 122.2,209.9 122.3,212.4 122.5,215.8 122.6,219.7 122.7,223.9 122.9,228.1 123.0,232.1 123.1,235.5 123.3,238.2 123.4,239.9 123.6,240.5 123.7,240.1 123.8,238.6 124.0,236.1 124.1,232.9 124.3,229.1 124.4,225.1 124.5,221.0 124.7,217.1 124.8,213.7 125.0,211.0 125.1,209.2 125.3,208.4 125.4,208.6 125.6,209.8 125.7,212.0 125.9,214.9 126.0,218.4 126.2,222.3 126.3,226.3 126.5,230.2 126.6,233.6 126.8,236.3 127.0,238.2 127.1,239.1 127.3,238.9 127.4,237.5 127.6,235.1 127.8,231.8 127.9,227.8 128.1,223.3 128.2,218.7 128.4,214.2 128.6,210.0 128.7,206.6 128.9,204.2 129.1,202.8 129.2,202.7 129.4,203.8 129.6,206.1 129.7,209.4 129.9,213.5 130.1,218.1 130.3,222.9 130.4,227.6 130.6,231.9 130.8,235.3 131.0,237.8 131.2,239.0 131.3,238.9 131.5,237.4 131.7,234.5 131.9,230.5 132.1,225.6 132.2,220.0 132.4,214.1 132.6,208.4 132.8,203.2 133.0,198.8 133.2,195.6 133.4,193.8 133.6,193.5 133.8,194.8 134.0,197.5 134.1,201.6 134.3,206.7 134.5,212.4 134.7,218.4 134.9,224.3 135.1,229.7 135.3,234.1 135.5,237.2 135.8,238.9 136.0,238.9 136.2,237.3 136.4,234.1 136.6,229.5 136.8,223.8 137.0,217.3 137.2,210.6 137.4,204.0 137.6,198.0 137.9,193.0 138.1,189.3 138.3,187.3 138.5,187.0 138.7,188.4 139.0,191.5 139.2,196.1 139.4,201.9 139.6,208.4 139.9,215.2 140.1,221.9 140.3,228.0 140.6,233.0 140.8,236.7 141.0,238.8 141.3,239.0 141.5,237.4 141.8,234.0 142.0,229.2 142.2,223.1 142.5,216.2 142.7,208.9 143.0,201.8 143.2,195.4 143.5,190.0 143.7,186.0 144.0,183.7 144.3,183.4 144.5,184.9 144.8,188.2 145.0,193.1 145.3,199.1 145.6,206.1 145.8,213.3 146.1,220.4 146.4,226.9 146.6,232.3 146.9,236.3 147.2,238.6 147.5,239.1 147.8,237.6 148.0,234.4 148.3,229.6 148.6,223.6 148.9,216.8 149.2,209.5 149.5,202.4 149.8,195.9 150.1,190.4 150.4,186.4 150.7,184.0 151.0,183.5 151.3,184.8 151.6,187.9 151.9,192.6 152.2,198.6 152.5,205.4 152.8,212.6 153.1,219.7 153.5,226.3 153.8,231.8 154.1,236.0 154.4,238.5 154.8,239.1 155.1,237.9 155.4,234.8 155.8,230.2 156.1,224.2 156.5,217.3 156.8,210.0 157.1,202.8 157.5,196.1 157.9,190.3 158.2,186.0 158.6,183.3 158.9,182.4 159.3,183.5 159.7,186.4 160.0,191.0 160.4,196.9 160.8,203.7 161.2,211.0 161.5,218.3 161.9,225.1 162.3,231.0 162.7,235.5 163.1,238.2 163.5,239.1 163.9,238.0 164.3,235.1 164.7,230.3 165.1,224.2 165.5,217.0 165.9,209.3 166.4,201.5 166.8,194.1 167.2,187.8 167.7,182.8 168.1,179.5 168.5,178.2 169.0,179.0 169.4,181.7 169.9,186.3 170.3,192.4 170.8,199.6 171.2,207.4 171.7,215.4 172.2,222.9 172.7,229.5 173.1,234.6 173.6,237.9 174.1,239.1 174.6,238.1 175.1,235.0 175.6,229.8 176.1,222.9 176.6,214.6 177.1,205.6 177.6,196.4 178.2,187.6 178.7,179.8 179.2,173.5 179.8,169.2 180.3,167.1 180.9,167.6 181.4,170.4 182.0,175.4 182.6,182.4 183.1,190.8 183.7,200.1 184.3,209.6 184.9,218.7 185.5,226.7 186.1,233.1 186.7,237.3 187.3,239.1 187.9,238.2 188.5,234.7 189.2,228.7 189.8,220.5 190.5,210.8 191.1,200.0 191.8,188.9 192.4,178.3 193.1,168.8 193.8,161.1 194.5,155.7 195.2,153.0 195.9,153.2 196.6,156.4 197.3,162.2 198.0,170.3 198.8,180.3 199.5,191.3 200.2,202.7 201.0,213.6 201.8,223.4 202.6,231.2 203.3,236.6 204.1,239.0 204.9,238.3 205.7,234.5 206.6,227.7 207.4,218.3 208.2,207.1 209.1,194.5 210.0,181.6 210.8,169.2 211.7,158.0 212.6,148.9 213.5,142.4 214.4,139.2 215.3,139.3 216.3,142.8 217.2,149.4 218.2,158.7 219.2,170.2 220.2,182.9 221.2,196.1 222.2,208.8 223.2,220.1 224.2,229.3 225.3,235.7 226.4,238.9 227.4,238.5 228.5,234.5 229.7,227.2 230.8,216.9 231.9,204.4 233.1,190.4 234.3,175.9 235.5,161.7 236.7,148.9 237.9,138.2 239.1,130.7 240.4,126.8 241.7,126.6 243.0,130.2 244.3,137.4 245.6,147.7 247.0,160.3 248.4,174.6 249.8,189.3 251.2,203.7 252.6,216.6 254.1,227.2 255.6,234.7 257.1,238.6 258.6,238.6 260.2,234.7 261.8,227.0 263.4,216.1 265.0,202.7 266.7,187.6 268.4,171.8 270.1,156.3 271.9,142.3 273.7,130.6 275.5,121.9 277.3,117.0 279.2,116.1 281.1,119.2 283.1,126.2 285.1,136.6 287.1,149.7 289.1,164.9 291.2,180.9 293.4,196.9 295.6,211.7 297.8,224.1 300.0,233.2 302.3,238.3 304.7,238.8 307.1,234.5 309.5,225.7 312.0,212.8 314.6,196.5 317.2,178.0 319.9,158.6 322.6,139.6 325.4,122.1 328.2,107.3 331.1,96.4 334.1,90.0 337.1,88.7 340.2,92.5 343.4,101.0 346.6,113.8 349.9,130.0 353.3,148.5 356.8,172.1 360.4,196.5" fill="none" stroke="#000" stroke-width="1" stroke-dasharray="3.4 5.6" stroke-linejoin="bevel"/>
<polyline points="78.1,236.8 78.1,235.8 78.2,234.9 78.2,233.9 78.2,233.1 78.2,232.4 78.2,231.9 78.2,231.7 78.2,231.7 78.2,231.9 78.2,232.4 78.2,233.1 78.2,233.9 78.2,234.9 78.2,235.8 78.2,236.8 78.2,237.6 78.3,238.3 78.3,238.8 78.3,239.1 78.3,239.1 78.3,238.9 78.3,238.4 78.3,237.7 78.3,236.8 78.3,235.9 78.3,234.9 78.3,233.9 78.3,233.0 78.3,232.3 78.3,231.8 78.3,231.5 78.4,231.4 78.4,231.7 78.4,232.1 78.4,232.8 78.4,233.7 78.4,234.6 78.4,235.6 78.4,236.6 78.4,237.5 78.4,238.2 78.4,238.8 78.4,239.1 78.4,239.1 78.4,238.9 78.5,238.4 78.5,237.7 78.5,236.8 78.5,235.9 78.5,234.8 78.5,233.8 78.5,232.9 78.5,232.1 78.5,231.6 78.5,231.3 78.5,231.2 78.5,231.4 78.5,231.9 78.5,232.5 78.5,233.4 78.6,234.4 78.6,235.4 78.6,236.4 78.6,237.4 78.6,238.1 78.6,238.7 78.6,239.1 78.6,239.1 78.6,238.9 78.6,238.4 78.6,237.8 78.6,236.9 78.6,235.9 78.6,234.8 78.7,233.8 78.7,232.8 78.7,232.0 78.7,231.4 78.7,231.0 78.7,230.9 78.7,231.1 78.7,231.6 78.7,232.3 78.7,233.1 78.7,234.1 78.7,235.2 78.7,236.2 78.7,237.2 78.8,238.0 78.8,238.7 78.8,239.0 78.8,239.1 78.8,238.9 78.8,238.5 78.8,237.8 78.8,236.9 78.8,235.9 78.8,234.8 78.8,233.7 78.8,232.7 78.8,231.9 78.9,231.2 78.9,230.8 78.9,230.7 78.9,230.8 78.9,231.3 78.9,231.9 78.9,232.8 78.9,233.8 78.9,234.9 78.9,236.0 78.9,237.0 78.9,237.9 78.9,238.6 78.9,239.0 79.0,239.1 79.0,239.0 79.0,238.5 79.0,237.8 79.0,237.0 79.0,235.9 79.0,234.8 79.0,233.7 79.0,232.6 79.0,231.7 79.0,231.0 79.0,230.6 79.0,230.4 79.1,230.5 79.1,231.0 79.1,231.6 79.1,232.5 79.1,233.6 79.1,234.7 79.1,235.8 79.1,236.9 79.1,237.8 79.1,238.5 79.1,239.0 79.1,239.1 79.1,239.0 79.2,238.6 79.2,237.9 79.2,237.0 79.2,235.9 79.2,234.8 79.2,233.6 79.2,232.5 79.2,231.6 79.2,230.8 79.2,230.4 79.2,230.1 79.2,230.3 79.2,230.6 79.3,231.3 79.3,232.2 79.3,233.3 79.3,234.4 79.3,235.6 79.3,236.7 79.3,237.7 79.3,238.4 79.3,238.9 79.3,239.1 79.3,239.0 79.3,238.6 79.4,237.9 79.4,237.0 79.4,236.0 79.4,234.8 79.4,233.6 79.4,232.5 79.4,231.5 79.4,230.7 79.4,230.1 79.4,229.9 79.4,230.0 79.4,230.3 79.4,231.0 79.5,231.9 79.5,233.0 79.5,234.2 79.5,235.4 79.5,236.5 79.5,237.5 79.5,238.3 79.5,238.9 79.5,239.1 79.5,239.0 79.5,238.7 79.5,238.0 79.6,237.1 79.6,236.0 79.6,234.8 79.6,233.6 79.6,232.4 79.6,231.4 79.6,230.5 79.6,229.9 79.6,229.7 79.6,229.7 79.6,230.0 79.6,230.7 79.7,231.6 79.7,232.7 79.7,233.9 79.7,235.1 79.7,236.3 79.7,237.4 79.7,238.2 79.7,238.8 79.7,239.1 79.7,239.1 79.7,238.7 79.7,238.1 79.8,237.2 79.8,236.1 79.8,234.8 79.8,233.6 79.8,232.4 79.8,231.3 79.8,230.4 79.8,229.8 79.8,229.4 79.8,229.4 79.8,229.8 79.8,230.4 79.9,231.3 79.9,232.4 79.9,233.6 79.9,234.9 79.9,236.1 79.9,237.2 79.9,238.1 79.9,238.8 79.9,239.1 79.9,239.1 79.9,238.8 80.0,238.1 80.0,237.2 80.0,236.1 80.0,234.9 80.0,233.6 80.0,232.3 80.0,231.2 80.0,230.3 80.0,229.6 80.0,229.2 80.0,229.2 80.0,229.5 80.1,230.1 80.1,231.0 80.1,232.1 80.1,233.4 80.1,234.7 80.1,235.9 80.1,237.1 80.1,238.0 80.1,238.7 80.1,239.1 80.1,239.1 80.2,238.8 80.2,238.2 80.2,237.3 80.2,236.2 80.2,234.9 80.2,233.6 80.2,232.3 80.2,231.2 80.2,230.2 80.2,229.5 80.2,229.1 80.3,229.0 80.3,229.3 80.3,229.9 80.3,230.8 80.3,231.9 80.3,233.1 80.3,234.4 80.3,235.7 80.3,236.9 80.3,237.9 80.3,238.6 80.4,239.0 80.4,239.1 80.4,238.8 80.4,238.3 80.4,237.4 80.4,236.3 80.4,235.0 80.4,233.7 80.4,232.4 80.4,231.1 80.4,230.1 80.5,229.4 80.5,228.9 80.5,228.8 80.5,229.1 80.5,229.6 80.5,230.5 80.5,231.6 80.5,232.9 80.5,234.2 80.5,235.5 80.5,236.7 80.6,237.8 80.6,238.5 80.6,239.0 80.6,239.1 80.6,238.9 80.6,238.3 80.6,237.5 80.6,236.4 80.6,235.1 80.6,233.7 80.7,232.4 80.7,231.2 80.7,230.1 80.7,229.3 80.7,228.8 80.7,228.7 80.7,228.9 80.7,229.4 80.7,230.3 80.7,231.4 80.7,232.6 80.8,234.0 80.8,235.3 80.8,236.6 80.8,237.7 80.8,238.5 80.8,239.0 80.8,239.1 80.8,238.9 80.8,238.4 80.8,237.5 80.9,236.5 80.9,235.2 80.9,233.8 80.9,232.5 80.9,231.2 80.9,230.1 80.9,229.3 80.9,228.8 80.9,228.6 80.9,228.7 81.0,229.3 81.0,230.1 81.0,231.2 81.0,232.4 81.0,233.8 81.0,235.2 81.0,236.4 81.0,237.5 81.0,238.4 81.0,238.9 81.1,239.1 81.1,239.0 81.1,238.5 81.1,237.6 81.1,236.6 81.1,235.3 81.1,233.9 81.1,232.6 81.1,231.3 81.1,230.2 81.2,229.3 81.2,228.7 81.2,228.5 81.2,228.6 81.2,229.1 81.2,229.9 81.2,231.0 81.2,232.3 81.2,233.6 81.2,235.0 81.3,236.3 81.3,237.4 81.3,238.3 81.3,238.9 81.3,239.1 81.3,239.0 81.3,238.5 81.3,237.7 81.3,236.7 81.3,235.4 81.4,234.1 81.4,232.7 81.4,231.4 81.4,230.3 81.4,229.4 81.4,228.8 81.4,228.5 81.4,228.6 81.4,229.0 81.5,229.8 81.5,230.9 81.5,232.1 81.5,233.5 81.5,234.8 81.5,236.2 81.5,237.3 81.5,238.2 81.5,238.8 81.6,239.1 81.6,239.0 81.6,238.6 81.6,237.8 81.6,236.8 81.6,235.6 81.6,234.2 81.6,232.8 81.6,231.5 81.6,230.4 81.7,229.4 81.7,228.8 81.7,228.5 81.7,228.6 81.7,229.0 81.7,229.7 81.7,230.7 81.7,232.0 81.7,233.3 81.8,234.7 81.8,236.0 81.8,237.2 81.8,238.1 81.8,238.8 81.8,239.1 81.8,239.1 81.8,238.7 81.8,237.9 81.9,236.9 81.9,235.7 81.9,234.4 81.9,233.0 81.9,231.7 81.9,230.5 81.9,229.5 81.9,228.9 81.9,228.5 82.0,228.6 82.0,228.9 82.0,229.7 82.0,230.6 82.0,231.8 82.0,233.2 82.0,234.6 82.0,235.9 82.0,237.1 82.1,238.0 82.1,238.7 82.1,239.1 82.1,239.1 82.1,238.7 82.1,238.0 82.1,237.1 82.1,235.9 82.2,234.5 82.2,233.2 82.2,231.8 82.2,230.6 82.2,229.7 82.2,229.0 82.2,228.6 82.2,228.6 82.2,228.9 82.3,229.6 82.3,230.5 82.3,231.7 82.3,233.0 82.3,234.4 82.3,235.8 82.3,237.0 82.3,238.0 82.3,238.7 82.4,239.1 82.4,239.1 82.4,238.8 82.4,238.1 82.4,237.2 82.4,236.0 82.4,234.7 82.4,233.3 82.5,232.0 82.5,230.8 82.5,229.8 82.5,229.0 82.5,228.6 82.5,228.6 82.5,228.9 82.5,229.5 82.6,230.4 82.6,231.6 82.6,232.9 82.6,234.3 82.6,235.6 82.6,236.8 82.6,237.9 82.6,238.6 82.6,239.0 82.7,239.1 82.7,238.8 82.7,238.2 82.7,237.3 82.7,236.1 82.7,234.8 82.7,233.5 82.7,232.1 82.8,230.9 82.8,229.8 82.8,229.0 82.8,228.6 82.8,228.5 82.8,228.8 82.8,229.4 82.8,230.3 82.9,231.4 82.9,232.7 82.9,234.1 82.9,235.4 82.9,236.7 82.9,237.7 82.9,238.5 82.9,239.0 83.0,239.1 83.0,238.9 83.0,238.3 83.0,237.4 83.0,236.3 83.0,234.9 83.0,233.6 83.0,232.2 83.1,230.9 83.1,229.8 83.1,229.0 83.1,228.5 83.1,228.4 83.1,228.6 83.1,229.2 83.2,230.0 83.2,231.2 83.2,232.5 83.2,233.9 83.2,235.2 83.2,236.5 83.2,237.6 83.2,238.5 83.3,239.0 83.3,239.1 83.3,238.9 83.3,238.4 83.3,237.5 83.3,236.3 83.3,235.0 83.3,233.6 83.4,232.2 83.4,230.9 83.4,229.8 83.4,228.9 83.4,228.4 83.4,228.2 83.4,228.4 83.5,228.9 83.5,229.7 83.5,230.9 83.5,232.2 83.5,233.6 83.5,235.0 83.5,236.3 83.5,237.5 83.6,238.4 83.6,238.9 83.6,239.1 83.6,239.0 83.6,238.4 83.6,237.6 83.6,236.4 83.7,235.1 83.7,233.6 83.7,232.2 83.7,230.8 83.7,229.6 83.7,228.7 83.7,228.1 83.8,227.9 83.8,228.0 83.8,228.5 83.8,229.4 83.8,230.5 83.8,231.8 83.8,233.3 83.9,234.7 83.9,236.1 83.9,237.3 83.9,238.3 83.9,238.9 83.9,239.1 83.9,239.0 83.9,238.5 84.0,237.6 84.0,236.5 84.0,235.1 84.0,233.6 84.0,232.1 84.0,230.7 84.0,229.4 84.1,228.5 84.1,227.8 84.1,227.5 84.1,227.6 84.1,228.1 84.1,228.9 84.1,230.1 84.2,231.4 84.2,232.9 84.2,234.4 84.2,235.9 84.2,237.1 84.2,238.1 84.3,238.8 84.3,239.1 84.3,239.0 84.3,238.5 84.3,237.7 84.3,236.5 84.3,235.1 84.4,233.6 84.4,232.0 84.4,230.5 84.4,229.2 84.4,228.1 84.4,227.4 84.4,227.1 84.5,227.1 84.5,227.6 84.5,228.4 84.5,229.6 84.5,231.0 84.5,232.5 84.5,234.1 84.6,235.6 84.6,236.9 84.6,238.0 84.6,238.7 84.6,239.1 84.6,239.0 84.7,238.6 84.7,237.7 84.7,236.6 84.7,235.1 84.7,233.6 84.7,231.9 84.7,230.4 84.8,229.0 84.8,227.8 84.8,227.0 84.8,226.6 84.8,226.6 84.8,227.1 84.9,227.9 84.9,229.1 84.9,230.5 84.9,232.1 84.9,233.7 84.9,235.3 84.9,236.7 85.0,237.8 85.0,238.7 85.0,239.1 85.0,239.1 85.0,238.6 85.0,237.8 85.1,236.6 85.1,235.2 85.1,233.5 85.1,231.9 85.1,230.2 85.1,228.8 85.2,227.5 85.2,226.7 85.2,226.2 85.2,226.2 85.2,226.6 85.2,227.4 85.3,228.6 85.3,230.0 85.3,231.6 85.3,233.3 85.3,235.0 85.3,236.5 85.3,237.7 85.4,238.6 85.4,239.1 85.4,239.1 85.4,238.7 85.4,237.9 85.4,236.7 85.5,235.2 85.5,233.6 85.5,231.8 85.5,230.2 85.5,228.6 85.5,227.4 85.6,226.4 85.6,225.9 85.6,225.8 85.6,226.2 85.6,227.0 85.6,228.2 85.7,229.6 85.7,231.3 85.7,233.0 85.7,234.7 85.7,236.3 85.8,237.5 85.8,238.5 85.8,239.0 85.8,239.1 85.8,238.7 85.8,238.0 85.9,236.8 85.9,235.3 85.9,233.7 85.9,231.9 85.9,230.2 85.9,228.6 86.0,227.3 86.0,226.3 86.0,225.8 86.0,225.6 86.0,226.0 86.0,226.7 86.1,227.9 86.1,229.3 86.1,231.0 86.1,232.8 86.1,234.5 86.1,236.1 86.2,237.4 86.2,238.4 86.2,239.0 86.2,239.1 86.2,238.8 86.3,238.0 86.3,236.9 86.3,235.5 86.3,233.8 86.3,232.1 86.3,230.3 86.4,228.7 86.4,227.4 86.4,226.4 86.4,225.8 86.4,225.6 86.5,225.9 86.5,226.6 86.5,227.7 86.5,229.2 86.5,230.8 86.5,232.6 86.6,234.3 86.6,235.9 86.6,237.3 86.6,238.3 86.6,238.9 86.7,239.1 86.7,238.9 86.7,238.2 86.7,237.1 86.7,235.7 86.8,234.0 86.8,232.3 86.8,230.6 86.8,229.0 86.8,227.6 86.8,226.6 86.9,225.9 86.9,225.7 86.9,225.9 86.9,226.6 86.9,227.7 87.0,229.1 87.0,230.7 87.0,232.4 87.0,234.2 87.0,235.8 87.1,237.2 87.1,238.2 87.1,238.9 87.1,239.1 87.1,238.9 87.2,238.3 87.2,237.2 87.2,235.9 87.2,234.3 87.2,232.6 87.3,230.8 87.3,229.2 87.3,227.9 87.3,226.8 87.3,226.1 87.3,225.8 87.4,226.0 87.4,226.7 87.4,227.7 87.4,229.0 87.4,230.6 87.5,232.3 87.5,234.0 87.5,235.6 87.5,237.0 87.5,238.1 87.6,238.8 87.6,239.1 87.6,239.0 87.6,238.4 87.7,237.4 87.7,236.0 87.7,234.5 87.7,232.8 87.7,231.1 87.8,229.5 87.8,228.1 87.8,227.0 87.8,226.2 87.8,225.9 87.9,226.1 87.9,226.6 87.9,227.6 87.9,228.9 87.9,230.5 88.0,232.1 88.0,233.9 88.0,235.5 88.0,236.9 88.0,238.0 88.1,238.8 88.1,239.1 88.1,239.0 88.1,238.4 88.2,237.5 88.2,236.2 88.2,234.6 88.2,232.9 88.2,231.2 88.3,229.6 88.3,228.1 88.3,227.0 88.3,226.2 88.3,225.8 88.4,225.9 88.4,226.4 88.4,227.3 88.4,228.6 88.5,230.1 88.5,231.8 88.5,233.6 88.5,235.2 88.5,236.7 88.6,237.9 88.6,238.7 88.6,239.1 88.6,239.0 88.7,238.5 88.7,237.6 88.7,236.3 88.7,234.7 88.7,233.0 88.8,231.2 88.8,229.5 88.8,227.9 88.8,226.7 88.9,225.8 88.9,225.4 88.9,225.4 88.9,225.9 88.9,226.8 89.0,228.1 89.0,229.6 89.0,231.4 89.0,233.2 89.1,234.9 89.1,236.5 89.1,237.7 89.1,238.6 89.2,239.1 89.2,239.1 89.2,238.6 89.2,237.6 89.2,236.3 89.3,234.7 89.3,232.9 89.3,231.0 89.3,229.2 89.4,227.6 89.4,226.2 89.4,225.2 89.4,224.7 89.5,224.7 89.5,225.1 89.5,226.0 89.5,227.3 89.6,228.9 89.6,230.8 89.6,232.6 89.6,234.5 89.7,236.2 89.7,237.5 89.7,238.5 89.7,239.0 89.7,239.1 89.8,238.6 89.8,237.7 89.8,236.3 89.8,234.6 89.9,232.8 89.9,230.8 89.9,228.8 89.9,227.1 90.0,225.6 90.0,224.6 90.0,224.0 90.0,223.9 90.1,224.3 90.1,225.2 90.1,226.5 90.1,228.2 90.2,230.1 90.2,232.1 90.2,234.0 90.2,235.8 90.3,237.3 90.3,238.4 90.3,239.0 90.3,239.1 90.4,238.7 90.4,237.7 90.4,236.4 90.5,234.6 90.5,232.7 90.5,230.6 90.5,228.6 90.6,226.8 90.6,225.2 90.6,224.0 90.6,223.4 90.7,223.2 90.7,223.6 90.7,224.5 90.7,225.9 90.8,227.6 90.8,229.6 90.8,231.6 90.8,233.7 90.9,235.5 90.9,237.1 90.9,238.3 91.0,239.0 91.0,239.1 91.0,238.7 91.0,237.8 91.1,236.5 91.1,234.7 91.1,232.8 91.1,230.7 91.2,228.6 91.2,226.7 91.2,225.1 91.3,223.9 91.3,223.2 91.3,223.0 91.3,223.4 91.4,224.2 91.4,225.6 91.4,227.3 91.4,229.2 91.5,231.3 91.5,233.4 91.5,235.3 91.6,236.9 91.6,238.2 91.6,238.9 91.6,239.1 91.7,238.8 91.7,237.9 91.7,236.6 91.8,235.0 91.8,233.0 91.8,230.9 91.8,228.9 91.9,227.0 91.9,225.4 91.9,224.1 92.0,223.4 92.0,223.1 92.0,223.5 92.0,224.3 92.1,225.6 92.1,227.2 92.1,229.2 92.2,231.2 92.2,233.3 92.2,235.2 92.3,236.8 92.3,238.1 92.3,238.9 92.3,239.1 92.4,238.9 92.4,238.1 92.4,236.8 92.5,235.2 92.5,233.3 92.5,231.3 92.6,229.3 92.6,227.4 92.6,225.7 92.6,224.5 92.7,223.7 92.7,223.4 92.7,223.6 92.8,224.4 92.8,225.6 92.8,227.2 92.9,229.0 92.9,231.1 92.9,233.1 93.0,235.0 93.0,236.7 93.0,238.0 93.1,238.8 93.1,239.1 93.1,238.9 93.1,238.2 93.2,237.0 93.2,235.4 93.2,233.5 93.3,231.5 93.3,229.4 93.3,227.5 93.4,225.8 93.4,224.4 93.4,223.5 93.5,223.2 93.5,223.3 93.5,224.0 93.6,225.2 93.6,226.7 93.6,228.6 93.7,230.6 93.7,232.7 93.7,234.7 93.8,236.4 93.8,237.8 93.8,238.7 93.9,239.1 93.9,239.0 93.9,238.3 94.0,237.1 94.0,235.4 94.0,233.5 94.1,231.4 94.1,229.2 94.1,227.1 94.2,225.2 94.2,223.7 94.2,222.7 94.3,222.2 94.3,222.3 94.3,222.9 94.4,224.1 94.4,225.7 94.4,227.6 94.5,229.8 94.5,232.0 94.5,234.1 94.6,236.0 94.6,237.6 94.7,238.6 94.7,239.1 94.7,239.0 94.8,238.3 94.8,237.1 94.8,235.3 94.9,233.3 94.9,231.0 94.9,228.6 95.0,226.3 95.0,224.3 95.0,222.6 95.1,221.4 95.1,220.8 95.2,220.9 95.2,221.5 95.2,222.7 95.3,224.4 95.3,226.5 95.3,228.8 95.4,231.2 95.4,233.5 95.5,235.6 95.5,237.3 95.5,238.5 95.6,239.1 95.6,239.0 95.6,238.4 95.7,237.1 95.7,235.3 95.8,233.1 95.8,230.7 95.8,228.2 95.9,225.8 95.9,223.6 95.9,221.8 96.0,220.6 96.0,219.9 96.1,219.9 96.1,220.5 96.1,221.8 96.2,223.5 96.2,225.7 96.3,228.1 96.3,230.6 96.3,233.1 96.4,235.3 96.4,237.1 96.5,238.3 96.5,239.0 96.5,239.1 96.6,238.4 96.6,237.2 96.7,235.5 96.7,233.3 96.7,230.9 96.8,228.4 96.8,226.0 96.9,223.8 96.9,222.0 96.9,220.7 97.0,220.0 97.0,220.0 97.1,220.6 97.1,221.8 97.1,223.5 97.2,225.6 97.2,228.0 97.3,230.5 97.3,232.9 97.4,235.1 97.4,236.9 97.4,238.3 97.5,239.0 97.5,239.1 97.6,238.6 97.6,237.4 97.7,235.8 97.7,233.7 97.7,231.4 97.8,228.9 97.8,226.5 97.9,224.4 97.9,222.5 98.0,221.2 98.0,220.5 98.0,220.3 98.1,220.8 98.1,221.9 98.2,223.5 98.2,225.6 98.3,227.9 98.3,230.3 98.4,232.7 98.4,234.9 98.4,236.8 98.5,238.1 98.5,238.9 98.6,239.1 98.6,238.6 98.7,237.6 98.7,235.9 98.8,233.9 98.8,231.5 98.9,229.0 98.9,226.4 98.9,224.1 99.0,222.1 99.0,220.6 99.1,219.7 99.1,219.4 99.2,219.8 99.2,220.8 99.3,222.4 99.3,224.5 99.4,226.9 99.4,229.4 99.5,232.0 99.5,234.4 99.6,236.4 99.6,237.9 99.7,238.9 99.7,239.1 99.8,238.7 99.8,237.6 99.9,235.8 99.9,233.6 100.0,231.0 100.0,228.2 100.1,225.4 100.1,222.8 100.2,220.6 100.2,218.8 100.3,217.7 100.3,217.3 100.4,217.7 100.4,218.7 100.5,220.4 100.5,222.7 100.6,225.3 100.6,228.1 100.7,231.0 100.7,233.6 100.8,235.9 100.8,237.7 100.9,238.8 100.9,239.1 101.0,238.7 101.0,237.6 101.1,235.8 101.1,233.5 101.2,230.7 101.2,227.8 101.3,224.9 101.3,222.1 101.4,219.8 101.4,218.0 101.5,216.8 101.6,216.4 101.6,216.8 101.7,217.9 101.7,219.6 101.8,222.0 101.8,224.7 101.9,227.6 101.9,230.5 102.0,233.3 102.0,235.7 102.1,237.5 102.2,238.7 102.2,239.1 102.3,238.8 102.3,237.8 102.4,236.1 102.4,233.9 102.5,231.2 102.6,228.4 102.6,225.6 102.7,222.9 102.7,220.6 102.8,218.8 102.8,217.6 102.9,217.1 103.0,217.4 103.0,218.4 103.1,220.1 103.1,222.3 103.2,224.8 103.2,227.6 103.3,230.5 103.4,233.2 103.4,235.5 103.5,237.4 103.5,238.6 103.6,239.1 103.7,238.9 103.7,237.9 103.8,236.3 103.9,234.1 103.9,231.5 104.0,228.6 104.0,225.7 104.1,222.9 104.2,220.3 104.2,218.3 104.3,216.9 104.3,216.2 104.4,216.3 104.5,217.2 104.5,218.7 104.6,220.9 104.7,223.5 104.7,226.5 104.8,229.5 104.9,232.4 104.9,234.9 105.0,237.0 105.0,238.4 105.1,239.1 105.2,238.9 105.2,238.0 105.3,236.2 105.4,233.9 105.4,231.0 105.5,227.8 105.6,224.5 105.6,221.4 105.7,218.6 105.8,216.3 105.8,214.7 105.9,213.9 106.0,214.0 106.0,214.9 106.1,216.7 106.2,219.0 106.3,221.9 106.3,225.1 106.4,228.4 106.5,231.6 106.5,234.4 106.6,236.7 106.7,238.3 106.7,239.1 106.8,239.0 106.9,238.1 107.0,236.4 107.0,234.1 107.1,231.3 107.2,228.2 107.2,225.0 107.3,222.0 107.4,219.3 107.5,217.2 107.5,215.7 107.6,215.0 107.7,215.1 107.8,216.0 107.8,217.6 107.9,219.9 108.0,222.6 108.1,225.6 108.1,228.8 108.2,231.8 108.3,234.4 108.4,236.6 108.4,238.2 108.5,239.0 108.6,239.0 108.7,238.3 108.7,236.8 108.8,234.6 108.9,231.9 109.0,228.9 109.1,225.7 109.1,222.6 109.2,219.8 109.3,217.4 109.4,215.6 109.5,214.6 109.5,214.4 109.6,215.0 109.7,216.4 109.8,218.5 109.9,221.1 109.9,224.2 110.0,227.4 110.1,230.7 110.2,233.6 110.3,236.1 110.4,237.9 110.4,238.9 110.5,239.1 110.6,238.3 110.7,236.6 110.8,234.2 110.9,231.1 110.9,227.5 111.0,223.8 111.1,220.1 111.2,216.8 111.3,213.9 111.4,211.8 111.5,210.6 111.6,210.3 111.6,211.1 111.7,212.7 111.8,215.2 111.9,218.3 112.0,221.9 112.1,225.7 112.2,229.4 112.3,232.7 112.4,235.6 112.5,237.6 112.5,238.8 112.6,239.1 112.7,238.4 112.8,236.7 112.9,234.2 113.0,231.1 113.1,227.5 113.2,223.7 113.3,220.0 113.4,216.5 113.5,213.5 113.6,211.3 113.7,209.9 113.8,209.4 113.9,210.0 114.0,211.5 114.1,213.9 114.2,217.0 114.3,220.6 114.4,224.5 114.5,228.3 114.6,231.9 114.7,235.0 114.8,237.3 114.9,238.7 115.0,239.1 115.1,238.4 115.2,236.7 115.3,234.0 115.4,230.6 115.5,226.6 115.6,222.3 115.7,218.0 115.8,214.0 115.9,210.6 116.0,208.0 116.1,206.4 116.2,205.9 116.3,206.5 116.4,208.2 116.5,210.9 116.6,214.4 116.8,218.4 116.9,222.7 117.0,227.0 117.1,231.0 117.2,234.4 117.3,237.0 117.4,238.6 117.5,239.2 117.6,238.6 117.8,236.9 117.9,234.3 118.0,230.9 118.1,226.9 118.2,222.7 118.3,218.5 118.4,214.6 118.6,211.2 118.7,208.7 118.8,207.1 118.9,206.6 119.0,207.2 119.2,208.8 119.3,211.5 119.4,214.9 119.5,218.9 119.6,223.2 119.8,227.5 119.9,231.5 120.0,235.0 120.1,237.7 120.3,239.5 120.4,240.3 120.5,239.9 120.6,238.4 120.8,236.0 120.9,232.7 121.0,228.9 121.1,224.7 121.3,220.5 121.4,216.5 121.5,213.0 121.7,210.3 121.8,208.6 121.9,207.9 122.1,208.4 122.2,209.9 122.3,212.4 122.5,215.8 122.6,219.7 122.7,223.9 122.9,228.1 123.0,232.1 123.1,235.5 123.3,238.2 123.4,239.9 123.6,240.5 123.7,240.1 123.8,238.6 124.0,236.1 124.1,232.9 124.3,229.1 124.4,225.1 124.5,221.0 124.7,217.1 124.8,213.7 125.0,211.0 125.1,209.2 125.3,208.4 125.4,208.6 125.6,209.8 125.7,212.0 125.9,214.9 126.0,218.4 126.2,222.3 126.3,226.3 126.5,230.2 126.6,233.6 126.8,236.3 127.0,238.2 127.1,239.1 127.3,238.9 127.4,237.5 127.6,235.1 127.8,231.8 127.9,227.8 128.1,223.3 128.2,218.7 128.4,214.2 128.6,210.0 128.7,206.6 128.9,204.2 129.1,202.8 129.2,202.7 129.4,203.8 129.6,206.1 129.7,209.4 129.9,213.5 130.1,218.1 130.3,222.9 130.4,227.6 130.6,231.9 130.8,235.3 131.0,237.8 131.2,239.0 131.3,238.9 131.5,237.4 131.7,234.5 131.9,230.5 132.1,225.6 132.2,220.0 132.4,214.1 132.6,208.4 132.8,203.2 133.0,198.8 133.2,195.6 133.4,193.8 133.6,193.5 133.8,194.8 134.0,197.5 134.1,201.6 134.3,206.7 134.5,212.4 134.7,218.4 134.9,224.3 135.1,229.7 135.3,234.1 135.5,237.2 135.8,238.9 136.0,238.9 136.2,237.3 136.4,234.1 136.6,229.5 136.8,223.8 137.0,217.3 137.2,210.6 137.4,204.0 137.6,198.0 137.9,193.0 138.1,189.3 138.3,187.3 138.5,187.0 138.7,188.4 139.0,191.5 139.2,196.1 139.4,201.9 139.6,208.4 139.9,215.2 140.1,221.9 140.3,228.0 140.6,233.0 140.8,236.7 141.0,238.8 141.3,239.0 141.5,237.4 141.8,234.0 142.0,229.2 142.2,223.1 142.5,216.2 142.7,208.9 143.0,201.8 143.2,195.4 143.5,190.0 143.7,186.0 144.0,183.7 144.3,183.4 144.5,184.9 144.8,188.2 145.0,193.1 145.3,199.1 145.6,206.1 145.8,213.3 146.1,220.4 146.4,226.9 146.6,232.3 146.9,236.3 147.2,238.6 147.5,239.1 147.8,237.6 148.0,234.4 148.3,229.6 148.6,223.6 148.9,216.8 149.2,209.5 149.5,202.4 149.8,195.9 150.1,190.4 150.4,186.4 150.7,184.0 151.0,183.5 151.3,184.8 151.6,187.9 151.9,192.6 152.2,198.6 152.5,205.4 152.8,212.6 153.1,219.7 153.5,226.3 153.8,231.8 154.1,236.0 154.4,238.5 154.8,239.1 155.1,237.9 155.4,234.8 155.8,230.2 156.1,224.2 156.5,217.3 156.8,210.0 157.1,202.8 157.5,196.1 157.9,190.3 158.2,186.0 158.6,183.3 158.9,182.4 159.3,183.5 159.7,186.4 160.0,191.0 160.4,196.9 160.8,203.7 161.2,211.0 161.5,218.3 161.9,225.1 162.3,231.0 162.7,235.5 163.1,238.2 163.5,239.1 163.9,238.0 164.3,235.1 164.7,230.3 165.1,224.2 165.5,217.0 165.9,209.3 166.4,201.5 166.8,194.1 167.2,187.8 167.7,182.8 168.1,179.5 168.5,178.2 169.0,179.0 169.4,181.7 169.9,186.3 170.3,192.4 170.8,199.6 171.2,207.4 171.7,215.4 172.2,222.9 172.7,229.5 173.1,234.6 173.6,237.9 174.1,239.1 174.6,238.1 175.1,235.0 175.6,229.8 176.1,222.9 176.6,214.6 177.1,205.6 177.6,196.4 178.2,187.6 178.7,179.8 179.2,173.5 179.8,169.2 180.3,167.1 180.9,167.6 181.4,170.4 182.0,175.4 182.6,182.4 183.1,190.8 183.7,200.1 184.3,209.6 184.9,218.7 185.5,226.7 186.1,233.1 186.7,237.3 187.3,239.1 187.9,238.2 188.5,234.7 189.2,228.7 189.8,220.5 190.5,210.8 191.1,200.0 191.8,188.9 192.4,178.3 193.1,168.8 193.8,161.1 194.5,155.7 195.2,153.0 195.9,153.2 196.6,156.4 197.3,162.2 198.0,170.3 198.8,180.3 199.5,191.3 200.2,202.7 201.0,213.6 201.8,223.4 202.6,231.2 203.3,236.6 204.1,239.0 204.9,238.3 205.7,234.5 206.6,227.7 207.4,218.3 208.2,207.1 209.1,194.5 210.0,181.6 210.8,169.2 211.7,158.0 212.6,148.9 213.5,142.4 214.4,139.2 215.3,139.3 216.3,142.8 217.2,149.4 218.2,158.7 219.2,170.2 220.2,182.9 221.2,196.1 222.2,208.8 223.2,220.1 224.2,229.3 225.3,235.7 226.4,238.9 227.4,238.5 228.5,234.5 229.7,227.2 230.8,216.9 231.9,204.4 233.1,190.4 234.3,175.9 235.5,161.7 236.7,148.9 237.9,138.2 239.1,130.7 240.4,126.8 241.7,126.6 243.0,130.2 244.3,137.4 245.6,147.7 247.0,160.3 248.4,174.6 249.8,189.3 251.2,203.7 252.6,216.6 254.1,227.2 255.6,234.7 257.1,238.6 258.6,238.6 260.2,234.7 261.8,227.0 263.4,216.1 265.0,202.7 266.7,187.6 268.4,171.8 270.1,156.3 271.9,142.3 273.7,130.6 275.5,121.9 277.3,117.0 279.2,116.1 281.1,119.2 283.1,126.2 285.1,136.6 287.1,149.7 289.1,164.9 291.2,180.9 293.4,196.9 295.6,211.7 297.8,224.1 300.0,233.2 302.3,238.3 304.7,238.8 307.1,234.5 309.5,225.7 312.0,212.8 314.6,196.5 317.2,178.0 319.9,158.6 322.6,139.6 325.4,122.1 328.2,107.3 331.1,96.4 334.1,90.2 337.1,88.7 340.2,91.9 343.4,99.6 346.6,111.5 349.9,126.7 353.3,144.4 356.8,165.9 360.4,190.4" fill="none" stroke="#00f" stroke-width="2" stroke-dasharray="1.5 1.5" stroke-linejoin="bevel"/>
<rect x="65.5" y="17.5" width="337.0" height="241.0" fill="none" stroke="#000" stroke-width="1"/>
<text transform="translate(337.70,33.60) scale(1.05,1.1)" text-anchor="end"  stroke="#000" stroke-width="0.2" >A</text>
<path d="M346 28.4 H385" fill="none" stroke="#f00" stroke-width="2"/>
<text transform="translate(337.70,48.20) scale(1.05,1.1)" text-anchor="end"  stroke="#000" stroke-width="0.2" >B</text>
<path d="M346 43.0 H385" fill="none" stroke="#000" stroke-width="1" stroke-dasharray="3.4 5.6"/>
<text transform="translate(337.70,62.70) scale(1.05,1.1)" text-anchor="end"  stroke="#000" stroke-width="0.2" >C</text>
<path d="M346 57.5 H385" fill="none" stroke="#00f" stroke-width="2" stroke-dasharray="1.5 1.5"/>
<text transform="translate(233.80,299.40) scale(1,1.1)" text-anchor="middle"  stroke="#000" stroke-width="0.2" letter-spacing="0.35">E(MeV)</text>
</g>
</svg>
</body></html>
